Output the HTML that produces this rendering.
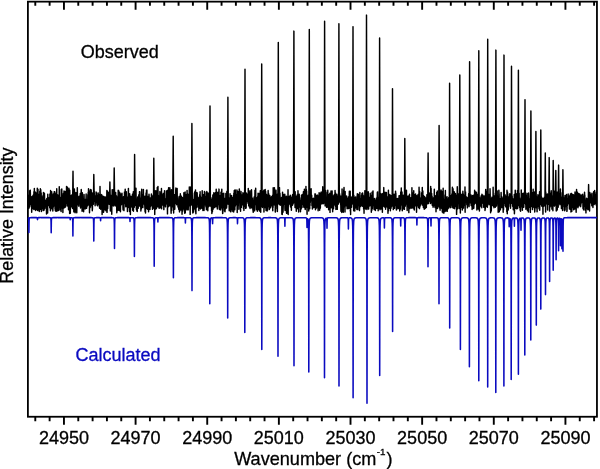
<!DOCTYPE html>
<html><head><meta charset="utf-8"><style>html,body{margin:0;padding:0;background:#fff;}svg{display:block;will-change:transform;}</style></head>
<body><svg width="600" height="469" viewBox="0 0 600 469">
<rect x="0" y="0" width="600" height="469" fill="#fff"/>
<rect x="27.9" y="1.65" width="569.0500000000001" height="415.1" fill="none" stroke="#000" stroke-width="1.8"/>
<svg x="27.9" y="0" width="569.0500000000001" height="469" viewBox="27.9 0 569.0500000000001 469" overflow="hidden">
<polyline fill="none" stroke="#000" stroke-width="1.45" stroke-linejoin="round" points="27.90,199.66 28.04,204.57 28.18,199.85 28.32,199.28 28.46,195.35 28.60,199.94 28.74,208.41 28.88,204.01 29.02,207.93 29.16,202.89 29.30,203.83 29.44,202.49 29.58,190.64 29.72,206.77 29.86,204.54 30.00,204.49 30.14,190.48 30.28,190.15 30.42,195.61 30.56,198.31 30.70,203.25 30.84,201.01 30.98,204.63 31.12,197.19 31.26,203.27 31.40,203.82 31.54,197.07 31.68,212.28 31.82,204.86 31.96,208.95 32.10,197.34 32.24,196.57 32.38,199.10 32.52,200.62 32.66,205.34 32.80,202.89 32.94,198.44 33.08,195.19 33.22,197.98 33.36,209.10 33.50,196.14 33.64,202.86 33.78,204.02 33.92,191.79 34.06,201.61 34.20,209.64 34.34,188.44 34.48,199.25 34.62,200.62 34.76,196.08 34.90,204.47 35.04,200.90 35.18,191.95 35.32,206.58 35.46,205.57 35.60,207.34 35.74,210.49 35.88,203.61 36.02,202.06 36.16,193.01 36.30,205.23 36.44,197.40 36.58,198.41 36.72,193.23 36.86,195.13 37.00,197.91 37.14,209.52 37.28,188.34 37.42,192.00 37.56,202.83 37.70,210.50 37.84,204.99 37.98,189.19 38.12,203.58 38.26,196.61 38.40,194.16 38.54,207.53 38.68,208.32 38.82,202.30 38.96,202.87 39.10,204.07 39.24,211.46 39.38,205.24 39.52,204.60 39.66,204.79 39.80,191.31 39.94,209.47 40.08,207.38 40.22,204.67 40.36,188.73 40.50,197.26 40.64,206.66 40.78,189.77 40.92,200.13 41.06,207.79 41.20,192.95 41.34,211.55 41.48,204.81 41.62,200.34 41.76,203.37 41.90,205.44 42.04,202.07 42.18,208.59 42.32,197.09 42.46,198.66 42.60,207.93 42.74,201.47 42.88,195.70 43.02,207.32 43.16,210.62 43.30,198.47 43.44,192.52 43.58,200.44 43.72,200.35 43.86,199.40 44.00,210.23 44.14,194.77 44.28,209.32 44.42,193.23 44.56,196.30 44.70,205.32 44.84,208.48 44.98,206.76 45.12,203.49 45.26,202.21 45.40,202.27 45.54,204.96 45.68,200.18 45.82,203.06 45.96,204.94 46.10,201.31 46.24,206.16 46.38,204.90 46.52,214.08 46.66,203.36 46.80,198.58 46.94,198.93 47.08,201.22 47.22,207.17 47.36,199.16 47.50,203.75 47.64,212.97 47.78,194.16 47.92,202.85 48.06,203.83 48.20,202.81 48.34,198.56 48.48,205.46 48.62,203.09 48.76,197.99 48.90,203.55 49.04,197.78 49.18,200.67 49.32,199.87 49.46,200.90 49.60,198.21 49.74,207.70 49.88,193.88 50.02,200.88 50.16,207.35 50.30,206.73 50.44,210.76 50.58,190.51 50.72,199.06 50.86,199.14 51.00,205.25 51.14,208.23 51.28,208.20 51.42,192.12 51.56,205.63 51.70,191.84 51.84,202.42 51.98,208.88 52.12,200.35 52.26,202.51 52.40,206.35 52.54,202.20 52.68,200.74 52.82,211.02 52.96,207.95 53.10,199.44 53.24,194.03 53.38,207.10 53.52,199.62 53.66,202.14 53.80,205.77 53.94,202.71 54.08,205.35 54.22,191.62 54.36,191.74 54.50,205.20 54.64,195.20 54.78,194.80 54.92,191.99 55.06,209.32 55.20,206.03 55.34,210.63 55.48,195.36 55.62,201.31 55.76,194.08 55.90,206.15 56.04,211.36 56.18,195.66 56.32,211.18 56.46,207.55 56.60,200.17 56.74,188.82 56.88,210.20 57.02,200.69 57.16,197.49 57.30,203.83 57.44,203.89 57.58,210.78 57.72,194.85 57.86,208.49 58.00,210.71 58.14,210.49 58.28,200.16 58.42,196.59 58.56,207.74 58.70,202.03 58.84,202.09 58.98,210.31 59.12,199.63 59.26,186.78 59.40,198.85 59.54,189.58 59.68,206.48 59.82,203.30 59.96,197.44 60.10,201.24 60.24,206.56 60.38,201.80 60.52,209.68 60.66,200.91 60.80,207.87 60.94,210.72 61.08,211.47 61.22,197.06 61.36,206.86 61.50,189.45 61.64,194.46 61.78,188.90 61.92,208.05 62.06,193.52 62.20,201.22 62.34,200.09 62.48,201.12 62.62,197.56 62.76,202.78 62.90,212.61 63.04,201.58 63.18,204.65 63.32,207.62 63.46,200.05 63.60,193.35 63.74,197.79 63.88,208.08 64.02,190.91 64.16,197.53 64.30,207.66 64.44,206.30 64.58,201.35 64.72,206.38 64.86,202.35 65.00,193.86 65.14,191.43 65.28,197.27 65.42,207.12 65.56,197.73 65.70,195.61 65.84,196.44 65.98,191.64 66.12,200.56 66.26,193.86 66.40,203.60 66.54,186.42 66.68,203.37 66.82,197.26 66.96,189.06 67.10,205.87 67.24,199.56 67.38,187.24 67.52,195.78 67.66,203.13 67.80,198.41 67.94,206.22 68.08,206.01 68.22,205.50 68.36,203.36 68.50,209.70 68.64,205.46 68.78,204.14 68.92,188.17 69.06,206.95 69.20,209.55 69.34,199.43 69.48,198.34 69.62,213.52 69.76,190.23 69.90,204.25 70.04,195.46 70.18,205.64 70.32,213.18 70.46,200.54 70.60,204.83 70.74,206.98 70.88,195.60 71.02,200.74 71.16,203.14 71.30,206.49 71.44,201.08 71.58,200.07 71.72,194.91 71.86,199.04 72.00,206.91 72.14,201.94 72.28,195.93 72.42,196.01 72.56,208.47 73.00,171.20 73.40,205.31 73.54,205.21 73.68,204.32 73.82,211.89 73.96,203.99 74.10,200.88 74.24,204.58 74.38,189.08 74.52,207.79 74.66,203.34 74.80,196.89 74.94,209.63 75.08,212.67 75.22,192.49 75.36,197.11 75.50,203.13 75.64,202.45 75.78,198.80 75.92,195.18 76.06,207.82 76.20,193.80 76.34,192.85 76.48,212.00 76.62,207.51 76.76,212.74 76.90,206.39 77.04,195.82 77.18,202.94 77.32,187.74 77.46,196.60 77.60,200.93 77.74,204.58 77.88,196.73 78.02,200.52 78.16,204.18 78.30,203.66 78.44,205.30 78.58,202.61 78.72,199.27 78.86,206.25 79.00,201.61 79.14,196.12 79.28,197.37 79.42,201.30 79.56,200.61 79.70,202.28 79.84,201.30 79.98,202.40 80.12,200.46 80.26,193.41 80.40,203.94 80.54,207.91 80.68,204.03 80.82,200.11 80.96,204.10 81.10,195.25 81.24,189.41 81.38,201.67 81.52,195.47 81.66,205.94 81.80,194.51 81.94,194.79 82.08,211.19 82.22,198.91 82.36,192.72 82.50,196.52 82.64,204.56 82.78,204.41 82.92,202.41 83.06,210.60 83.20,205.73 83.34,201.17 83.48,205.04 83.62,211.66 83.76,207.38 83.90,207.71 84.04,194.52 84.18,200.37 84.32,205.87 84.46,199.44 84.60,207.99 84.74,205.03 84.88,206.99 85.02,199.97 85.16,209.06 85.30,199.95 85.44,201.87 85.58,199.15 85.72,206.77 85.86,207.44 86.00,201.34 86.14,194.00 86.28,202.47 86.42,203.55 86.56,208.37 86.70,206.20 86.84,201.45 86.98,206.64 87.12,204.68 87.26,202.59 87.40,201.65 87.54,199.78 87.68,205.59 87.82,194.71 87.96,197.37 88.10,201.33 88.24,192.15 88.38,198.58 88.52,188.74 88.66,197.03 88.80,204.85 88.94,204.84 89.08,200.96 89.22,199.85 89.36,192.45 89.50,212.72 89.64,204.52 89.78,208.13 89.92,195.79 90.06,200.14 90.20,189.93 90.34,206.18 90.48,207.14 90.62,189.45 90.76,200.97 90.90,205.24 91.04,190.30 91.18,189.90 91.32,194.65 91.46,197.37 91.60,192.54 91.74,201.50 91.88,202.86 92.02,205.26 92.16,205.68 92.30,210.68 92.44,208.57 92.58,193.11 92.72,198.15 92.86,194.68 93.00,194.58 93.14,200.79 93.28,201.33 93.42,204.36 93.80,174.40 94.12,191.40 94.26,193.58 94.40,201.16 94.54,200.06 94.68,199.36 94.82,200.91 94.96,196.56 95.10,205.67 95.24,203.51 95.38,200.75 95.52,197.11 95.66,200.21 95.80,195.18 95.94,201.53 96.08,191.93 96.22,202.54 96.36,202.22 96.50,192.72 96.64,199.74 96.78,199.34 96.92,204.17 97.06,205.11 97.20,201.07 97.34,196.00 97.48,200.40 97.62,200.89 97.76,205.87 97.90,203.13 98.04,196.80 98.18,192.87 98.32,198.98 98.46,196.69 98.60,194.38 98.74,200.58 98.88,198.24 99.02,201.96 99.16,204.56 99.30,198.73 99.44,199.30 99.58,208.16 99.72,202.06 99.86,208.25 100.00,186.52 100.14,196.62 100.28,202.84 100.42,205.05 100.56,203.31 100.70,209.26 100.84,206.07 100.98,207.19 101.12,204.47 101.26,200.33 101.40,204.47 101.54,194.60 101.68,208.65 101.82,194.97 101.96,202.85 102.10,214.49 102.24,199.91 102.38,201.42 102.52,208.53 102.66,201.46 102.80,196.28 102.94,202.90 103.08,204.92 103.22,205.71 103.36,196.50 103.50,212.19 103.64,211.66 103.78,201.41 103.92,202.97 104.06,198.64 104.20,210.08 104.34,196.92 104.48,205.49 104.62,198.32 104.76,196.99 104.90,205.76 105.04,209.58 105.18,201.24 105.32,197.09 105.46,206.34 105.60,200.99 105.74,203.23 105.88,210.75 106.02,208.32 106.16,198.07 106.30,201.32 106.44,206.18 106.58,197.28 106.72,201.02 106.86,190.44 107.00,212.39 107.14,209.77 107.28,193.76 107.42,191.96 107.56,191.24 107.70,208.59 107.84,198.45 107.98,200.92 108.12,199.36 108.26,200.55 108.40,194.55 108.54,201.45 108.68,192.38 108.82,200.86 108.96,203.21 109.10,204.20 109.24,199.86 109.38,195.70 109.52,202.29 109.90,182.00 110.22,198.30 110.36,211.00 110.50,206.06 110.64,200.59 110.78,198.38 110.92,196.95 111.06,195.49 111.20,199.11 111.34,203.13 111.48,204.49 111.62,204.82 111.76,214.30 111.90,196.93 112.04,201.38 112.18,189.74 112.32,198.07 112.46,202.35 112.60,202.26 112.74,203.83 112.88,199.82 113.02,203.57 113.16,201.63 113.30,206.07 113.44,189.59 113.58,195.82 113.72,201.29 113.86,194.91 114.20,168.00 114.56,194.84 114.70,205.18 114.84,197.28 114.98,205.23 115.12,205.91 115.26,203.20 115.40,204.44 115.54,200.65 115.68,192.59 115.82,201.11 115.96,204.11 116.10,198.03 116.24,200.68 116.38,205.93 116.52,195.87 116.66,205.26 116.80,212.81 116.94,197.87 117.08,202.21 117.22,200.37 117.36,210.82 117.50,203.26 117.64,206.85 117.78,197.04 117.92,201.20 118.06,201.24 118.20,190.33 118.34,210.20 118.48,206.86 118.62,190.50 118.76,205.90 118.90,200.49 119.04,204.07 119.18,203.56 119.32,192.04 119.46,199.99 119.60,210.52 119.74,197.75 119.88,194.99 120.02,192.91 120.16,193.76 120.30,203.37 120.44,211.75 120.58,203.95 120.72,202.82 120.86,198.09 121.00,197.14 121.14,204.56 121.28,204.68 121.42,195.04 121.56,194.08 121.70,203.10 121.84,202.83 121.98,193.24 122.12,200.05 122.26,197.95 122.40,204.14 122.54,200.58 122.68,200.77 122.82,199.12 122.96,207.80 123.10,209.88 123.24,199.04 123.38,206.52 123.52,196.63 123.66,201.74 123.80,205.92 123.94,210.63 124.08,198.94 124.22,200.84 124.36,202.51 124.50,192.07 124.64,201.40 124.78,197.14 124.92,203.59 125.06,194.34 125.20,189.12 125.34,201.54 125.48,202.91 125.62,197.92 125.76,206.77 125.90,199.62 126.04,197.57 126.18,204.24 126.32,191.64 126.46,197.13 126.60,201.17 126.74,206.53 126.88,200.30 127.02,203.20 127.16,197.26 127.30,203.16 127.44,211.54 127.58,197.08 127.72,197.34 127.86,201.41 128.00,202.37 128.14,207.60 128.28,193.69 128.42,188.38 128.56,205.03 128.70,206.19 128.84,205.14 128.98,202.56 129.12,202.86 129.26,207.02 129.40,203.57 129.54,211.53 129.68,193.69 129.82,198.99 129.96,206.30 130.10,199.01 130.24,206.98 130.38,214.54 130.52,201.26 130.66,199.74 130.80,198.23 130.94,196.15 131.08,197.43 131.22,205.23 131.36,201.53 131.50,201.71 131.64,200.24 131.78,206.92 131.92,204.34 132.06,200.43 132.20,205.38 132.34,200.37 132.48,194.22 132.62,210.24 132.76,204.16 132.90,195.42 133.04,207.93 133.18,203.42 133.32,191.69 133.46,211.19 133.60,203.35 133.74,206.77 133.88,202.51 134.02,200.38 134.16,191.80 134.30,207.26 134.60,154.50 135.00,201.48 135.14,199.54 135.28,203.45 135.42,201.78 135.56,205.45 135.70,199.02 135.84,201.08 135.98,188.18 136.12,198.70 136.26,205.44 136.40,209.50 136.54,199.07 136.68,200.56 136.82,211.01 136.96,199.30 137.10,205.80 137.24,211.59 137.38,201.54 137.52,208.82 137.66,196.94 137.80,202.57 137.94,200.83 138.08,202.00 138.22,208.22 138.36,197.22 138.50,197.78 138.64,204.35 138.78,194.83 138.92,204.35 139.06,204.80 139.20,199.60 139.34,204.55 139.48,191.81 139.62,205.95 139.76,191.84 139.90,197.03 140.04,197.89 140.18,198.84 140.32,206.56 140.46,201.80 140.60,198.87 140.74,204.63 140.88,210.98 141.02,201.34 141.16,203.54 141.30,208.89 141.44,202.94 141.58,193.44 141.72,189.15 141.86,201.06 142.00,203.85 142.14,207.21 142.28,205.39 142.42,199.63 142.56,194.85 142.70,201.93 142.84,207.62 142.98,194.63 143.12,195.02 143.26,201.15 143.40,189.45 143.54,199.71 143.68,198.63 143.82,204.06 143.96,197.01 144.10,195.91 144.24,198.89 144.38,200.99 144.52,197.24 144.66,201.37 144.80,205.89 144.94,208.54 145.08,211.72 145.22,196.51 145.36,198.73 145.50,212.91 145.64,196.87 145.78,201.10 145.92,204.49 146.06,193.00 146.20,204.13 146.34,201.14 146.48,190.15 146.62,203.08 146.76,208.60 146.90,189.89 147.04,206.23 147.18,202.58 147.32,204.20 147.46,204.00 147.60,209.26 147.74,199.93 147.88,206.63 148.02,198.80 148.16,205.74 148.30,196.33 148.44,200.64 148.58,211.86 148.72,204.02 148.86,200.33 149.00,194.31 149.14,196.48 149.28,202.48 149.42,207.03 149.56,203.90 149.70,204.50 149.84,201.05 149.98,209.55 150.12,198.92 150.26,197.95 150.40,206.72 150.54,201.69 150.68,199.60 150.82,197.79 150.96,199.73 151.10,205.10 151.24,203.46 151.38,193.93 151.52,203.90 151.66,202.39 151.80,195.20 151.94,206.01 152.08,199.59 152.22,199.26 152.36,206.15 152.50,209.35 152.64,197.10 152.78,203.97 152.92,195.96 153.06,198.29 153.20,208.58 153.34,197.36 153.48,206.24 153.80,158.30 154.18,198.65 154.32,204.35 154.46,200.73 154.60,197.23 154.74,214.40 154.88,201.78 155.02,191.29 155.16,206.50 155.30,190.82 155.44,208.30 155.58,197.78 155.72,202.18 155.86,208.97 156.00,202.02 156.14,192.84 156.28,190.98 156.42,208.49 156.56,205.80 156.70,196.34 156.84,206.53 156.98,204.32 157.12,205.24 157.26,187.56 157.40,199.46 157.54,206.78 157.68,205.76 157.82,206.66 157.96,186.36 158.10,202.33 158.24,204.29 158.38,195.50 158.52,199.30 158.66,201.52 158.80,206.69 158.94,198.61 159.08,208.27 159.22,196.51 159.36,202.92 159.50,198.10 159.64,202.26 159.78,197.10 159.92,191.60 160.06,207.94 160.20,203.14 160.34,197.91 160.48,202.52 160.62,207.31 160.76,195.36 160.90,200.63 161.04,204.57 161.18,204.49 161.32,199.26 161.46,188.51 161.60,208.85 161.74,203.29 161.88,201.38 162.02,199.61 162.16,202.90 162.30,198.72 162.44,195.08 162.58,196.81 162.72,197.68 162.86,197.58 163.00,194.27 163.14,205.16 163.28,193.35 163.42,205.30 163.56,195.14 163.70,203.44 163.84,209.63 163.98,202.53 164.12,196.87 164.26,201.59 164.40,202.20 164.54,190.79 164.68,197.62 164.82,202.29 164.96,198.46 165.10,201.78 165.24,205.75 165.38,205.95 165.52,206.79 165.66,204.87 165.80,199.55 165.94,201.19 166.08,199.66 166.22,199.40 166.36,200.21 166.50,190.85 166.64,199.28 166.78,201.15 166.92,195.40 167.06,201.15 167.20,204.42 167.34,200.30 167.48,213.88 167.62,200.05 167.76,190.25 167.90,207.23 168.04,202.07 168.18,204.44 168.32,199.47 168.46,204.64 168.60,187.72 168.74,206.46 168.88,203.55 169.02,201.44 169.16,197.74 169.30,205.16 169.44,198.36 169.58,202.65 169.72,198.21 169.86,187.71 170.00,201.11 170.14,202.52 170.28,205.86 170.42,196.00 170.56,201.10 170.70,205.03 170.84,202.18 170.98,208.81 171.12,213.34 171.26,195.81 171.40,189.68 171.54,206.48 171.68,210.55 171.82,206.88 171.96,206.22 172.10,197.56 172.24,196.99 172.38,206.67 172.52,195.79 172.66,190.34 172.80,195.27 173.20,136.30 173.64,212.92 173.78,197.15 173.92,196.90 174.06,202.70 174.20,196.77 174.34,209.21 174.48,200.83 174.62,194.74 174.76,209.20 174.90,197.78 175.04,202.64 175.18,201.22 175.32,199.40 175.46,203.26 175.60,197.12 175.74,190.17 175.88,187.97 176.02,193.66 176.16,196.72 176.30,201.16 176.44,201.63 176.58,204.66 176.72,202.02 176.86,196.51 177.00,197.02 177.14,188.52 177.28,200.28 177.42,204.22 177.56,204.49 177.70,200.57 177.84,200.25 177.98,206.95 178.12,201.39 178.26,205.75 178.40,204.81 178.54,202.59 178.68,209.18 178.82,197.85 178.96,199.14 179.10,196.43 179.24,196.49 179.38,210.68 179.52,211.90 179.66,201.44 179.80,204.72 179.94,208.38 180.08,206.17 180.22,208.56 180.36,193.69 180.50,197.45 180.64,204.03 180.78,209.95 180.92,201.93 181.06,196.13 181.20,199.16 181.34,197.32 181.48,196.13 181.62,210.34 181.76,197.53 181.90,201.42 182.04,214.32 182.18,208.43 182.32,203.32 182.46,197.62 182.60,203.77 182.74,211.06 182.88,205.05 183.02,208.89 183.16,201.89 183.30,204.41 183.44,200.09 183.58,203.87 183.72,209.12 183.86,192.69 184.00,200.92 184.14,202.75 184.28,197.86 184.42,199.45 184.56,206.03 184.70,213.34 184.84,205.09 184.98,203.26 185.12,191.97 185.26,212.89 185.40,201.76 185.54,201.10 185.68,194.58 185.82,200.96 185.96,194.71 186.10,201.73 186.24,204.10 186.38,201.49 186.52,202.98 186.66,196.18 186.80,209.89 186.94,197.37 187.08,190.37 187.22,200.17 187.36,196.71 187.50,195.23 187.64,199.17 187.78,203.05 187.92,194.20 188.06,200.47 188.20,209.87 188.34,205.40 188.48,200.39 188.62,202.07 188.76,200.58 188.90,201.01 189.04,205.70 189.18,200.74 189.32,186.87 189.46,201.17 189.60,195.96 189.74,205.21 189.88,197.64 190.02,202.19 190.16,214.37 190.30,195.02 190.44,194.55 190.58,192.83 190.72,186.93 190.86,190.03 191.00,203.49 191.14,197.47 191.28,190.09 191.42,192.41 191.56,205.00 191.90,123.50 192.26,196.65 192.40,199.10 192.54,203.28 192.68,209.43 192.82,212.93 192.96,207.49 193.10,202.16 193.24,202.40 193.38,212.10 193.52,209.86 193.66,199.44 193.80,204.04 193.94,203.02 194.08,201.61 194.22,198.30 194.36,193.35 194.50,198.10 194.64,192.05 194.78,208.63 194.92,204.51 195.06,194.08 195.20,209.66 195.34,206.64 195.48,189.87 195.62,212.33 195.76,206.15 195.90,213.66 196.04,193.93 196.18,204.48 196.32,203.83 196.46,202.51 196.60,202.32 196.74,207.60 196.88,192.36 197.02,193.87 197.16,192.96 197.30,197.96 197.44,197.68 197.58,203.50 197.72,202.89 197.86,201.49 198.00,197.25 198.14,198.66 198.28,207.00 198.42,205.87 198.56,201.90 198.70,199.37 198.84,210.59 198.98,197.75 199.12,205.18 199.26,208.20 199.40,199.71 199.54,206.23 199.68,194.63 199.82,207.35 199.96,202.49 200.10,191.82 200.24,205.30 200.38,195.97 200.52,208.96 200.66,197.24 200.80,200.32 200.94,202.99 201.08,199.31 201.22,202.85 201.36,197.99 201.50,205.31 201.64,201.33 201.78,202.56 201.92,208.24 202.06,201.49 202.20,190.66 202.34,201.87 202.48,204.09 202.62,207.69 202.76,194.84 202.90,210.54 203.04,200.35 203.18,200.43 203.32,205.36 203.46,199.11 203.60,194.64 203.74,207.84 203.88,206.71 204.02,210.48 204.16,206.41 204.30,197.88 204.44,191.38 204.58,197.42 204.72,197.27 204.86,196.44 205.00,204.77 205.14,203.25 205.28,199.69 205.42,202.33 205.56,200.43 205.70,202.57 205.84,205.78 205.98,207.02 206.12,197.21 206.26,192.32 206.40,209.81 206.54,201.98 206.68,207.89 206.82,191.51 206.96,199.33 207.10,201.46 207.24,192.71 207.38,198.23 207.52,205.62 207.66,207.73 207.80,210.80 207.94,196.16 208.08,192.95 208.22,204.40 208.36,206.90 208.50,202.45 208.64,193.55 208.78,205.96 208.92,206.02 209.06,204.59 209.20,198.40 209.34,203.11 209.48,206.01 209.62,197.97 210.00,106.00 210.32,190.33 210.46,203.26 210.60,204.16 210.74,201.38 210.88,206.59 211.02,197.81 211.16,200.81 211.30,199.48 211.44,204.70 211.58,210.79 211.72,199.81 211.86,213.52 212.00,210.39 212.14,206.00 212.28,204.79 212.42,211.83 212.56,200.23 212.70,200.63 212.84,194.98 212.98,204.11 213.12,209.29 213.26,204.46 213.40,203.81 213.54,200.11 213.68,202.31 213.82,192.83 213.96,207.53 214.10,198.86 214.24,194.74 214.38,196.84 214.52,196.40 214.66,206.38 214.80,207.59 214.94,193.24 215.08,206.80 215.22,206.57 215.36,197.86 215.50,192.47 215.64,196.87 215.78,197.54 215.92,203.33 216.06,199.18 216.20,189.26 216.34,202.69 216.48,192.19 216.62,206.67 216.76,194.14 216.90,197.19 217.04,196.23 217.18,198.08 217.32,209.00 217.46,206.36 217.60,204.87 217.74,203.19 217.88,192.12 218.02,198.21 218.16,198.03 218.30,195.50 218.44,204.32 218.58,196.90 218.72,197.09 218.86,195.11 219.00,189.10 219.14,204.83 219.28,209.19 219.42,202.34 219.56,195.51 219.70,202.33 219.84,208.51 219.98,203.06 220.12,206.80 220.26,210.06 220.40,207.98 220.54,198.68 220.68,207.54 220.82,205.90 220.96,192.19 221.10,198.90 221.24,192.86 221.38,200.65 221.52,204.73 221.66,194.97 221.80,189.12 221.94,208.99 222.08,203.53 222.22,210.01 222.36,193.46 222.50,207.58 222.64,213.58 222.78,213.18 222.92,200.06 223.06,202.89 223.20,200.39 223.34,207.21 223.48,207.44 223.62,201.81 223.76,193.26 223.90,205.69 224.04,198.52 224.18,205.02 224.32,202.86 224.46,210.91 224.60,208.03 224.74,198.63 224.88,203.36 225.02,211.73 225.16,198.12 225.30,203.86 225.44,208.34 225.58,208.73 225.72,204.37 225.86,193.49 226.00,193.84 226.14,202.76 226.28,203.59 226.42,196.21 226.56,208.03 226.70,205.85 226.84,191.42 226.98,196.46 227.12,202.28 227.26,198.38 227.40,200.39 227.54,204.08 227.90,97.20 228.24,196.52 228.38,204.05 228.52,197.54 228.66,198.08 228.80,204.47 228.94,197.91 229.08,203.00 229.22,210.74 229.36,201.46 229.50,200.44 229.64,205.64 229.78,199.14 229.92,207.69 230.06,193.73 230.20,204.95 230.34,198.28 230.48,196.59 230.62,211.74 230.76,196.28 230.90,211.67 231.04,205.18 231.18,209.87 231.32,195.54 231.46,208.37 231.60,209.89 231.74,200.61 231.88,200.54 232.02,202.35 232.16,198.81 232.30,197.59 232.44,203.93 232.58,203.25 232.72,202.35 232.86,211.45 233.00,199.37 233.14,204.09 233.28,209.90 233.42,195.38 233.56,207.42 233.70,212.10 233.84,193.32 233.98,194.83 234.12,195.18 234.26,190.42 234.40,203.97 234.54,190.36 234.68,204.24 234.82,209.86 234.96,191.79 235.10,199.44 235.24,190.00 235.38,205.89 235.52,196.96 235.66,199.73 235.80,201.62 235.94,204.51 236.08,199.26 236.22,201.39 236.36,198.08 236.50,201.97 236.64,194.40 236.78,201.67 236.92,189.93 237.06,198.41 237.20,212.57 237.34,201.77 237.48,193.89 237.62,202.81 237.76,195.58 237.90,191.58 238.04,196.97 238.18,205.63 238.32,203.56 238.46,200.73 238.60,195.85 238.74,194.96 238.88,209.24 239.02,202.74 239.16,195.70 239.30,188.89 239.44,193.25 239.58,194.55 239.72,200.85 239.86,202.53 240.00,200.37 240.14,199.66 240.28,193.23 240.42,195.12 240.56,211.22 240.70,196.86 240.84,206.27 240.98,191.35 241.12,199.69 241.26,202.83 241.40,207.39 241.54,194.70 241.68,204.80 241.82,203.57 241.96,196.97 242.10,204.10 242.24,196.03 242.38,196.63 242.52,201.19 242.66,200.66 242.80,195.43 242.94,192.71 243.08,198.80 243.22,205.78 243.36,198.93 243.50,208.73 243.64,194.49 243.78,193.60 243.92,210.40 244.06,203.64 244.20,206.85 244.34,196.45 244.48,206.02 244.62,202.82 245.00,69.30 245.32,205.10 245.46,201.45 245.60,208.37 245.74,197.49 245.88,195.65 246.02,192.64 246.16,208.10 246.30,196.97 246.44,195.18 246.58,195.79 246.72,198.69 246.86,193.85 247.00,199.60 247.14,197.62 247.28,198.07 247.42,195.68 247.56,201.52 247.70,198.60 247.84,201.97 247.98,202.76 248.12,203.29 248.26,188.48 248.40,198.16 248.54,196.64 248.68,205.83 248.82,192.06 248.96,197.12 249.10,199.58 249.24,199.33 249.38,207.10 249.52,198.71 249.66,206.95 249.80,192.72 249.94,190.69 250.08,208.44 250.22,203.85 250.36,204.15 250.50,202.02 250.64,204.13 250.78,194.19 250.92,206.85 251.06,198.19 251.20,207.07 251.34,201.81 251.48,189.75 251.62,193.77 251.76,207.90 251.90,200.50 252.04,198.99 252.18,202.72 252.32,198.81 252.46,198.12 252.60,201.90 252.74,202.14 252.88,210.17 253.02,201.57 253.16,212.29 253.30,211.84 253.44,211.33 253.58,207.50 253.72,202.06 253.86,202.10 254.00,200.47 254.14,197.03 254.28,200.91 254.42,197.56 254.56,210.88 254.70,204.42 254.84,198.69 254.98,190.11 255.12,200.99 255.26,198.87 255.40,194.96 255.54,194.66 255.68,188.16 255.82,204.62 255.96,200.92 256.10,201.12 256.24,200.43 256.38,209.73 256.52,202.08 256.66,202.28 256.80,199.13 256.94,197.77 257.08,210.05 257.22,207.14 257.36,211.31 257.50,199.26 257.64,201.48 257.78,196.16 257.92,206.94 258.06,193.17 258.20,204.59 258.34,207.69 258.48,209.53 258.62,195.82 258.76,207.66 258.90,197.14 259.04,196.89 259.18,193.59 259.32,208.04 259.46,210.91 259.60,197.83 259.74,196.87 259.88,199.32 260.02,207.15 260.16,198.14 260.30,190.84 260.44,197.38 260.58,208.22 260.72,212.18 260.86,199.75 261.00,197.27 261.14,198.33 261.28,190.31 261.70,64.00 262.12,206.59 262.26,194.98 262.40,207.49 262.54,191.36 262.68,193.91 262.82,202.98 262.96,196.85 263.10,205.85 263.24,201.35 263.38,194.46 263.52,204.92 263.66,206.20 263.80,190.17 263.94,211.93 264.08,204.19 264.22,205.72 264.36,190.48 264.50,197.11 264.64,199.27 264.78,207.57 264.92,192.81 265.06,196.16 265.20,189.49 265.34,199.90 265.48,203.31 265.62,191.49 265.76,197.86 265.90,204.27 266.04,210.52 266.18,205.16 266.32,199.53 266.46,194.45 266.60,195.86 266.74,197.44 266.88,202.15 267.02,201.01 267.16,210.99 267.30,202.97 267.44,195.07 267.58,210.27 267.72,206.81 267.86,201.89 268.00,197.11 268.14,190.43 268.28,195.36 268.42,206.60 268.56,196.64 268.70,193.64 268.84,202.44 268.98,202.72 269.12,204.82 269.26,205.11 269.40,209.48 269.54,196.43 269.68,206.98 269.82,195.57 269.96,205.33 270.10,202.34 270.24,202.71 270.38,206.92 270.52,201.20 270.66,207.75 270.80,206.38 270.94,202.09 271.08,198.01 271.22,196.93 271.36,198.24 271.50,200.13 271.64,201.16 271.78,205.00 271.92,205.76 272.06,196.31 272.20,197.18 272.34,199.45 272.48,202.41 272.62,195.29 272.76,210.65 272.90,198.03 273.04,207.55 273.18,187.76 273.32,201.26 273.46,202.91 273.60,202.41 273.74,204.79 273.88,202.92 274.02,202.24 274.16,190.33 274.30,197.17 274.44,187.73 274.58,204.94 274.72,203.08 274.86,200.17 275.00,196.54 275.14,197.93 275.28,211.99 275.42,211.33 275.56,200.96 275.70,208.76 275.84,192.11 275.98,190.10 276.12,198.50 276.26,196.23 276.40,198.06 276.54,202.39 276.68,197.48 276.82,201.59 276.96,202.90 277.10,201.10 277.24,206.69 277.38,211.57 277.52,194.10 277.66,202.24 277.80,199.77 277.94,203.36 278.30,42.40 278.64,192.44 278.78,191.13 278.92,187.90 279.06,204.34 279.20,202.41 279.34,201.73 279.48,187.62 279.62,199.14 279.76,196.93 279.90,193.13 280.04,196.01 280.18,205.33 280.32,204.44 280.46,201.17 280.60,204.27 280.74,197.81 280.88,201.71 281.02,201.53 281.16,204.50 281.30,200.90 281.44,200.47 281.58,200.52 281.72,197.58 281.86,214.20 282.00,204.27 282.14,203.78 282.28,214.53 282.42,209.40 282.56,192.31 282.70,205.31 282.84,206.14 282.98,212.18 283.12,208.89 283.26,205.75 283.40,194.51 283.54,196.28 283.68,202.85 283.82,204.21 283.96,195.41 284.10,199.08 284.24,198.99 284.38,201.65 284.52,203.24 284.66,199.65 284.80,194.17 284.94,208.47 285.08,210.50 285.22,200.69 285.36,207.21 285.50,203.86 285.64,205.10 285.78,204.08 285.92,196.90 286.06,204.61 286.20,207.13 286.34,196.13 286.48,212.63 286.62,213.34 286.76,211.81 286.90,212.76 287.04,205.58 287.18,199.35 287.32,197.84 287.46,196.62 287.60,201.97 287.74,201.11 287.88,205.16 288.02,189.67 288.16,214.41 288.30,201.14 288.44,205.19 288.58,204.04 288.72,202.87 288.86,200.10 289.00,200.59 289.14,196.55 289.28,202.33 289.42,201.16 289.56,203.14 289.70,196.38 289.84,201.53 289.98,201.58 290.12,204.78 290.26,195.18 290.40,203.71 290.54,206.96 290.68,204.74 290.82,199.18 290.96,198.47 291.10,199.94 291.24,205.49 291.38,210.23 291.52,200.39 291.66,197.60 291.80,203.46 291.94,202.48 292.08,196.08 292.22,197.06 292.36,200.72 292.50,205.16 292.64,194.44 292.78,195.45 292.92,204.17 293.06,194.26 293.20,201.93 293.34,203.32 293.48,200.66 293.90,31.10 294.32,195.45 294.46,200.96 294.60,199.39 294.74,203.23 294.88,196.48 295.02,207.57 295.16,191.68 295.30,200.29 295.44,201.34 295.58,206.82 295.72,197.81 295.86,204.43 296.00,198.05 296.14,205.54 296.28,211.27 296.42,199.00 296.56,203.84 296.70,195.98 296.84,206.88 296.98,208.25 297.12,201.50 297.26,194.79 297.40,203.61 297.54,207.89 297.68,207.55 297.82,205.96 297.96,190.80 298.10,197.40 298.24,209.45 298.38,194.27 298.52,207.79 298.66,212.09 298.80,205.67 298.94,207.72 299.08,199.39 299.22,194.28 299.36,200.71 299.50,200.16 299.64,201.03 299.78,205.29 299.92,200.47 300.06,202.40 300.20,203.73 300.34,201.27 300.48,211.86 300.62,203.83 300.76,201.78 300.90,200.11 301.04,197.72 301.18,209.00 301.32,202.16 301.46,195.12 301.60,198.08 301.74,200.52 301.88,198.75 302.02,207.51 302.16,194.65 302.30,204.12 302.44,202.12 302.58,194.56 302.72,201.57 302.86,200.76 303.00,204.17 303.14,198.72 303.28,203.04 303.42,191.77 303.56,195.10 303.70,205.79 303.84,207.26 303.98,201.23 304.12,197.87 304.26,207.49 304.40,189.34 304.54,196.73 304.68,205.14 304.82,205.03 304.96,195.40 305.10,190.51 305.24,209.60 305.38,202.17 305.52,196.18 305.66,201.61 305.80,206.45 305.94,186.49 306.08,207.65 306.22,205.53 306.36,189.41 306.50,205.71 306.64,191.13 306.78,207.81 306.92,203.58 307.06,214.17 307.20,197.81 307.34,201.33 307.48,207.28 307.62,197.64 307.76,197.27 307.90,199.18 308.04,200.88 308.18,195.12 308.32,204.06 308.46,204.40 308.60,201.71 308.74,211.01 308.88,199.43 309.30,29.40 309.72,208.76 309.86,198.18 310.00,205.61 310.14,190.26 310.28,202.43 310.42,200.30 310.56,198.48 310.70,197.82 310.84,199.32 310.98,197.19 311.12,188.79 311.26,197.90 311.40,198.17 311.54,198.31 311.68,195.27 311.82,200.53 311.96,205.77 312.10,199.87 312.24,198.49 312.38,209.04 312.52,206.87 312.66,206.55 312.80,207.89 312.94,199.44 313.08,200.56 313.22,207.64 313.36,198.14 313.50,200.62 313.64,203.45 313.78,203.42 313.92,199.73 314.06,206.90 314.20,200.29 314.34,205.43 314.48,207.40 314.62,205.05 314.76,205.48 314.90,194.70 315.04,193.84 315.18,197.78 315.32,204.01 315.46,209.84 315.60,194.34 315.74,203.05 315.88,196.44 316.02,197.13 316.16,199.73 316.30,205.24 316.44,202.51 316.58,208.01 316.72,195.69 316.86,206.36 317.00,206.59 317.14,201.70 317.28,204.01 317.42,198.10 317.56,195.10 317.70,199.00 317.84,197.65 317.98,198.54 318.12,210.68 318.26,202.45 318.40,203.07 318.54,205.53 318.68,196.87 318.82,206.51 318.96,203.44 319.10,192.68 319.24,204.72 319.38,204.44 319.52,203.87 319.66,210.31 319.80,198.95 319.94,204.21 320.08,205.55 320.22,196.19 320.36,208.12 320.50,193.06 320.64,193.92 320.78,204.27 320.92,195.12 321.06,200.64 321.20,191.96 321.34,201.69 321.48,194.86 321.62,203.24 321.76,192.60 321.90,203.85 322.04,199.79 322.18,201.66 322.32,200.92 322.46,202.04 322.60,193.80 322.74,186.75 322.88,201.49 323.02,195.99 323.16,198.72 323.30,203.72 323.44,190.04 323.58,196.97 323.72,197.84 323.86,195.30 324.00,203.15 324.14,200.50 324.28,196.65 324.60,21.20 324.98,195.72 325.12,205.88 325.26,197.56 325.40,204.62 325.54,203.85 325.68,190.57 325.82,195.16 325.96,201.32 326.10,203.24 326.24,205.72 326.38,205.85 326.52,207.16 326.66,199.18 326.80,200.11 326.94,205.69 327.08,198.89 327.22,207.28 327.36,192.30 327.50,205.00 327.64,200.32 327.78,190.16 327.92,206.85 328.06,203.06 328.20,201.42 328.34,195.21 328.48,198.67 328.62,209.86 328.76,196.62 328.90,196.45 329.04,194.51 329.18,200.55 329.32,199.07 329.46,196.14 329.60,196.54 329.74,207.23 329.88,193.14 330.02,212.37 330.16,198.22 330.30,195.12 330.44,205.75 330.58,204.49 330.72,195.40 330.86,205.53 331.00,190.90 331.14,196.08 331.28,207.67 331.42,199.85 331.56,193.94 331.70,204.21 331.84,206.48 331.98,201.17 332.12,191.09 332.26,199.34 332.40,203.66 332.54,205.64 332.68,211.77 332.82,199.87 332.96,198.57 333.10,201.08 333.24,208.11 333.38,195.98 333.52,208.67 333.66,205.80 333.80,197.48 333.94,203.89 334.08,205.19 334.22,194.62 334.36,200.81 334.50,202.66 334.64,204.62 334.78,196.05 334.92,195.70 335.06,190.44 335.20,200.21 335.34,200.04 335.48,192.87 335.62,206.55 335.76,198.28 335.90,209.40 336.04,206.11 336.18,201.42 336.32,205.40 336.46,195.03 336.60,199.46 336.74,198.05 336.88,194.14 337.02,201.40 337.16,200.48 337.30,209.39 337.44,197.51 337.58,196.12 337.72,198.68 337.86,203.68 338.00,203.58 338.14,201.46 338.28,198.63 338.42,204.09 338.56,203.33 338.90,23.80 339.26,190.92 339.40,199.82 339.54,193.56 339.68,194.64 339.82,202.13 339.96,201.64 340.10,201.94 340.24,196.37 340.38,200.17 340.52,196.16 340.66,203.45 340.80,205.18 340.94,211.18 341.08,208.43 341.22,196.77 341.36,198.72 341.50,196.02 341.64,203.02 341.78,212.45 341.92,205.29 342.06,188.92 342.20,194.22 342.34,194.03 342.48,204.20 342.62,201.31 342.76,202.99 342.90,211.32 343.04,196.65 343.18,196.53 343.32,212.36 343.46,203.22 343.60,196.92 343.74,189.89 343.88,192.73 344.02,187.56 344.16,201.68 344.30,201.55 344.44,206.88 344.58,200.52 344.72,197.40 344.86,197.13 345.00,211.98 345.14,191.38 345.28,202.28 345.42,201.44 345.56,204.77 345.70,199.03 345.84,204.10 345.98,205.88 346.12,200.47 346.26,198.73 346.40,200.25 346.54,195.88 346.68,200.13 346.82,199.60 346.96,202.48 347.10,208.80 347.24,208.64 347.38,198.80 347.52,204.68 347.66,202.96 347.80,205.57 347.94,201.42 348.08,202.79 348.22,198.67 348.36,196.90 348.50,206.19 348.64,208.59 348.78,205.02 348.92,203.74 349.06,202.79 349.20,198.78 349.34,191.30 349.48,205.02 349.62,202.42 349.76,198.19 349.90,195.89 350.04,208.47 350.18,191.18 350.32,211.18 350.46,204.89 350.60,214.59 350.74,197.28 350.88,201.18 351.02,198.46 351.16,202.17 351.30,200.12 351.44,197.11 351.58,207.32 351.72,196.90 351.86,198.45 352.00,204.41 352.14,198.29 352.28,198.87 352.42,203.29 352.56,199.24 352.70,194.32 353.00,26.60 353.40,200.73 353.54,200.07 353.68,210.84 353.82,195.16 353.96,206.73 354.10,196.90 354.24,199.31 354.38,199.47 354.52,202.81 354.66,206.13 354.80,211.09 354.94,197.74 355.08,208.74 355.22,206.87 355.36,205.85 355.50,197.05 355.64,206.34 355.78,200.70 355.92,203.28 356.06,199.79 356.20,205.01 356.34,207.54 356.48,207.62 356.62,200.15 356.76,206.87 356.90,209.42 357.04,196.07 357.18,209.53 357.32,193.84 357.46,204.33 357.60,204.62 357.74,209.59 357.88,202.86 358.02,198.61 358.16,196.85 358.30,194.31 358.44,205.58 358.58,199.98 358.72,197.29 358.86,204.27 359.00,197.03 359.14,198.86 359.28,198.74 359.42,210.54 359.56,209.47 359.70,200.42 359.84,192.53 359.98,202.84 360.12,201.70 360.26,203.25 360.40,204.46 360.54,199.51 360.68,206.46 360.82,205.97 360.96,202.48 361.10,199.03 361.24,198.62 361.38,205.16 361.52,195.17 361.66,200.41 361.80,197.12 361.94,193.53 362.08,204.67 362.22,201.16 362.36,201.50 362.50,206.18 362.64,192.97 362.78,200.93 362.92,202.91 363.06,205.94 363.20,195.25 363.34,205.29 363.48,202.52 363.62,208.86 363.76,207.65 363.90,204.36 364.04,213.27 364.18,201.29 364.32,198.93 364.46,199.40 364.60,196.06 364.74,201.14 364.88,190.84 365.02,200.83 365.16,203.67 365.30,206.82 365.44,199.37 365.58,209.03 365.72,197.67 365.86,200.55 366.00,190.84 366.14,197.06 366.50,15.10 366.84,196.89 366.98,209.42 367.12,204.18 367.26,195.30 367.40,204.20 367.54,203.92 367.68,200.03 367.82,201.42 367.96,199.64 368.10,198.35 368.24,191.67 368.38,200.81 368.52,208.28 368.66,209.08 368.80,199.79 368.94,197.24 369.08,200.15 369.22,206.17 369.36,203.21 369.50,198.13 369.64,203.27 369.78,200.18 369.92,204.10 370.06,199.09 370.20,193.32 370.34,201.61 370.48,205.42 370.62,195.30 370.76,200.72 370.90,206.06 371.04,199.27 371.18,197.78 371.32,212.30 371.46,205.79 371.60,206.86 371.74,196.18 371.88,210.13 372.02,192.34 372.16,198.50 372.30,205.30 372.44,208.49 372.58,196.28 372.72,197.71 372.86,202.36 373.00,190.88 373.14,204.75 373.28,204.32 373.42,198.89 373.56,204.20 373.70,205.49 373.84,202.97 373.98,204.12 374.12,209.46 374.26,198.73 374.40,202.17 374.54,198.49 374.68,206.87 374.82,199.11 374.96,203.85 375.10,202.04 375.24,201.66 375.38,210.53 375.52,200.84 375.66,208.91 375.80,205.74 375.94,208.38 376.08,200.41 376.22,206.28 376.36,205.36 376.50,198.01 376.64,202.74 376.78,200.61 376.92,201.11 377.06,208.27 377.20,197.44 377.34,192.29 377.48,191.98 377.62,198.88 377.76,197.85 377.90,201.38 378.04,204.33 378.18,210.71 378.32,202.95 378.46,203.78 378.60,197.37 378.74,204.40 378.88,208.56 379.02,208.46 379.16,190.87 379.30,206.06 379.60,37.90 380.00,209.75 380.14,205.71 380.28,193.33 380.42,199.66 380.56,204.43 380.70,203.52 380.84,196.97 380.98,196.55 381.12,206.45 381.26,194.19 381.40,208.94 381.54,201.41 381.68,202.90 381.82,194.20 381.96,198.13 382.10,204.97 382.24,193.47 382.38,212.32 382.52,193.83 382.66,194.80 382.80,201.53 382.94,203.86 383.08,205.20 383.22,199.33 383.36,200.20 383.50,200.05 383.64,198.24 383.78,187.60 383.92,206.41 384.06,202.63 384.20,202.14 384.34,197.96 384.48,202.63 384.62,201.23 384.76,200.89 384.90,207.17 385.04,192.16 385.18,202.64 385.32,195.64 385.46,199.61 385.60,209.25 385.74,195.55 385.88,200.77 386.02,198.16 386.16,206.33 386.30,196.11 386.44,192.38 386.58,204.02 386.72,199.42 386.86,199.61 387.00,207.02 387.14,196.60 387.28,199.32 387.42,202.08 387.56,203.49 387.70,198.56 387.84,206.78 387.98,213.17 388.12,199.14 388.26,211.20 388.40,190.13 388.54,208.75 388.68,199.48 388.82,202.03 388.96,199.50 389.10,197.93 389.24,194.54 389.38,199.21 389.52,208.16 389.66,207.33 389.80,199.46 389.94,198.51 390.08,197.59 390.22,194.95 390.36,210.84 390.50,204.81 390.64,201.92 390.78,198.70 390.92,195.89 391.06,208.26 391.20,205.43 391.34,196.26 391.48,206.53 391.62,195.45 391.76,204.69 391.90,196.22 392.04,199.11 392.18,203.92 392.50,88.80 392.88,203.58 393.02,206.64 393.16,196.88 393.30,209.64 393.44,208.40 393.58,201.25 393.72,203.76 393.86,197.19 394.00,200.50 394.14,194.33 394.28,201.77 394.42,202.35 394.56,208.39 394.70,206.30 394.84,205.60 394.98,199.39 395.12,200.11 395.26,199.50 395.40,202.47 395.54,191.12 395.68,205.37 395.82,193.03 395.96,198.58 396.10,201.42 396.24,198.59 396.38,210.07 396.52,200.78 396.66,209.59 396.80,207.49 396.94,198.68 397.08,203.41 397.22,208.14 397.36,199.54 397.50,201.77 397.64,198.36 397.78,201.61 397.92,199.44 398.06,201.74 398.20,206.58 398.34,208.64 398.48,202.00 398.62,202.36 398.76,205.81 398.90,199.77 399.04,195.72 399.18,207.15 399.32,196.38 399.46,206.20 399.60,196.22 399.74,210.94 399.88,195.80 400.02,205.77 400.16,209.19 400.30,196.24 400.44,209.12 400.58,196.97 400.72,192.01 400.86,205.10 401.00,204.99 401.14,200.23 401.28,188.01 401.42,201.01 401.56,199.69 401.70,199.30 401.84,199.78 401.98,191.88 402.12,198.32 402.26,210.77 402.40,209.43 402.54,199.40 402.68,197.56 402.82,203.38 402.96,206.88 403.10,205.10 403.24,195.15 403.38,202.15 403.52,202.04 403.66,208.86 403.80,207.59 403.94,204.05 404.08,207.69 404.22,199.22 404.36,209.38 404.50,199.06 404.80,138.50 405.20,203.38 405.34,206.12 405.48,196.50 405.62,197.61 405.76,192.07 405.90,202.17 406.04,201.01 406.18,199.58 406.32,203.92 406.46,190.19 406.60,201.18 406.74,201.76 406.88,199.90 407.02,205.47 407.16,210.50 407.30,198.96 407.44,196.37 407.58,198.13 407.72,201.79 407.86,204.37 408.00,196.78 408.14,206.54 408.28,195.93 408.42,205.64 408.56,203.54 408.70,203.73 408.84,212.62 408.98,199.92 409.12,200.43 409.26,203.80 409.40,205.83 409.54,194.28 409.68,202.74 409.82,197.41 409.96,204.60 410.10,208.48 410.24,201.57 410.38,200.74 410.52,202.26 410.66,205.34 410.80,204.24 410.94,202.16 411.08,199.23 411.22,197.47 411.36,200.36 411.50,207.66 411.64,200.76 411.78,208.36 411.92,187.83 412.06,198.89 412.20,202.74 412.34,201.23 412.48,192.61 412.62,197.82 412.76,207.84 412.90,194.54 413.04,196.11 413.18,195.56 413.32,198.41 413.46,204.66 413.60,204.41 413.74,190.68 413.88,208.94 414.02,198.20 414.16,198.22 414.30,210.02 414.44,200.87 414.58,194.82 414.72,197.96 414.86,197.50 415.00,196.02 415.14,199.56 415.28,205.89 415.42,203.13 415.56,194.08 415.70,196.12 415.84,201.91 415.98,201.46 416.12,205.28 416.26,199.58 416.40,203.69 416.54,212.31 416.68,201.80 416.82,195.64 416.96,203.02 417.10,197.11 417.24,199.37 417.38,202.28 417.52,203.06 417.66,199.81 417.80,205.73 417.94,200.29 418.08,194.49 418.22,205.88 418.36,199.40 418.50,207.63 418.64,197.88 418.78,204.29 418.92,202.94 419.06,187.22 419.20,193.51 419.34,195.46 419.48,208.64 419.62,191.45 419.76,206.07 419.90,207.00 420.04,203.88 420.18,204.82 420.32,198.71 420.46,201.24 420.60,202.47 420.74,203.50 420.88,204.99 421.02,200.22 421.16,197.64 421.30,198.37 421.44,203.44 421.58,192.64 421.72,194.76 421.86,199.15 422.00,198.42 422.14,199.89 422.28,187.42 422.42,199.52 422.56,199.99 422.70,205.35 422.84,190.98 422.98,199.71 423.12,203.77 423.26,203.85 423.40,207.53 423.54,206.80 423.68,195.83 423.82,204.62 423.96,199.55 424.10,197.11 424.24,209.30 424.38,198.02 424.52,196.85 424.66,199.17 424.80,196.86 424.94,206.55 425.08,203.28 425.22,208.60 425.36,203.44 425.50,198.09 425.64,206.76 425.78,197.89 425.92,198.89 426.06,200.43 426.20,201.50 426.34,207.53 426.48,198.14 426.62,203.13 426.76,201.16 426.90,194.74 427.04,195.59 427.18,200.15 427.32,203.41 427.46,202.97 427.60,203.80 427.74,201.55 428.10,153.00 428.44,198.96 428.58,203.52 428.72,196.07 428.86,194.30 429.00,199.56 429.14,193.85 429.28,198.62 429.42,197.40 429.56,198.41 429.70,201.07 429.84,197.13 429.98,199.10 430.12,192.38 430.26,202.06 430.40,196.71 430.54,203.41 430.68,186.56 430.82,197.12 430.96,202.57 431.10,188.57 431.24,199.42 431.38,201.79 431.52,201.84 431.66,193.50 431.80,202.50 431.94,202.08 432.08,196.23 432.22,205.18 432.36,201.04 432.50,201.40 432.64,198.96 432.78,204.16 432.92,201.81 433.06,207.23 433.20,203.65 433.34,198.08 433.48,200.14 433.62,206.09 433.76,199.40 433.90,203.30 434.04,204.02 434.18,200.36 434.32,189.16 434.46,201.99 434.60,202.42 434.74,202.01 434.88,197.34 435.02,207.61 435.16,200.60 435.30,198.05 435.44,197.56 435.58,203.17 435.72,195.61 435.86,196.08 436.00,211.74 436.14,208.14 436.28,206.80 436.42,208.42 436.56,204.40 436.70,192.51 436.84,207.53 436.98,207.76 437.12,203.86 437.26,191.09 437.40,207.78 437.54,208.43 437.68,198.73 437.82,201.97 437.96,205.35 438.10,200.86 438.24,207.03 438.38,201.72 438.52,204.91 438.66,201.75 438.80,193.58 439.10,125.50 439.50,196.11 439.64,202.76 439.78,208.14 439.92,207.24 440.06,210.25 440.20,204.19 440.34,198.19 440.48,201.40 440.62,191.28 440.76,200.32 440.90,206.03 441.04,190.01 441.18,202.33 441.32,205.60 441.46,208.23 441.60,196.46 441.74,197.90 441.88,191.51 442.02,195.98 442.16,204.09 442.30,212.10 442.44,195.32 442.58,208.50 442.72,203.53 442.86,198.72 443.00,212.76 443.14,188.14 443.28,200.95 443.42,202.44 443.56,212.42 443.70,210.69 443.84,213.12 443.98,202.00 444.12,206.42 444.26,208.42 444.40,203.97 444.54,203.18 444.68,200.34 444.82,199.17 444.96,194.88 445.10,211.48 445.24,198.97 445.38,190.44 445.52,202.68 445.66,201.12 445.80,202.22 445.94,210.78 446.08,200.75 446.22,199.91 446.36,197.40 446.50,201.18 446.64,199.01 446.78,202.37 446.92,203.35 447.06,196.83 447.20,211.38 447.34,205.81 447.48,205.56 447.62,205.03 447.76,205.58 447.90,204.82 448.04,208.66 448.18,206.56 448.32,208.34 448.46,198.68 448.60,201.29 448.74,197.49 448.88,206.30 449.02,205.64 449.16,198.87 449.30,204.35 449.60,83.20 450.00,207.75 450.14,195.48 450.28,200.82 450.42,204.61 450.56,201.11 450.70,203.32 450.84,207.46 450.98,203.01 451.12,195.57 451.26,205.03 451.40,200.79 451.54,201.89 451.68,198.35 451.82,194.09 451.96,194.80 452.10,199.46 452.24,195.72 452.38,187.14 452.52,207.29 452.66,195.24 452.80,197.52 452.94,204.07 453.08,188.73 453.22,208.30 453.36,197.29 453.50,204.74 453.64,198.79 453.78,202.89 453.92,201.85 454.06,201.29 454.20,191.78 454.34,193.64 454.48,201.08 454.62,208.65 454.76,198.46 454.90,204.07 455.04,202.15 455.18,203.82 455.32,206.47 455.46,193.49 455.60,202.73 455.74,200.37 455.88,199.67 456.02,196.85 456.16,197.21 456.30,195.94 456.44,195.58 456.58,214.37 456.72,210.15 456.86,201.35 457.00,205.16 457.14,196.22 457.28,186.82 457.42,191.81 457.56,202.04 457.70,208.79 457.84,201.08 457.98,196.09 458.12,200.04 458.26,196.11 458.40,194.04 458.54,200.09 458.68,199.22 458.82,197.08 458.96,196.69 459.10,196.46 459.24,202.53 459.38,208.55 459.80,75.00 460.22,200.21 460.36,212.93 460.50,192.89 460.64,202.73 460.78,195.29 460.92,200.46 461.06,201.83 461.20,204.20 461.34,207.17 461.48,198.42 461.62,194.84 461.76,200.32 461.90,202.83 462.04,197.67 462.18,205.94 462.32,210.05 462.46,193.91 462.60,203.18 462.74,206.58 462.88,191.32 463.02,202.37 463.16,200.13 463.30,193.91 463.44,208.13 463.58,202.43 463.72,198.81 463.86,203.60 464.00,204.64 464.14,205.30 464.28,204.31 464.42,203.42 464.56,195.19 464.70,199.11 464.84,201.97 464.98,186.94 465.12,212.36 465.26,199.33 465.40,195.83 465.54,191.86 465.68,202.59 465.82,201.47 465.96,198.27 466.10,199.14 466.24,196.69 466.38,197.41 466.52,200.79 466.66,197.96 466.80,204.82 466.94,200.56 467.08,201.98 467.22,203.40 467.36,207.89 467.50,204.42 467.64,202.48 467.78,200.45 467.92,197.12 468.06,199.53 468.20,204.84 468.34,202.47 468.48,199.29 468.62,194.40 468.76,193.36 468.90,202.97 469.04,206.62 469.18,203.24 469.60,61.70 470.02,194.19 470.16,200.20 470.30,202.45 470.44,196.55 470.58,203.09 470.72,200.26 470.86,196.98 471.00,194.87 471.14,205.50 471.28,203.15 471.42,196.71 471.56,196.05 471.70,205.90 471.84,204.38 471.98,199.72 472.12,209.54 472.26,199.80 472.40,195.84 472.54,206.94 472.68,200.33 472.82,203.08 472.96,201.50 473.10,196.12 473.24,195.17 473.38,200.30 473.52,208.56 473.66,196.12 473.80,208.32 473.94,202.44 474.08,195.56 474.22,202.68 474.36,204.23 474.50,196.66 474.64,190.31 474.78,203.14 474.92,195.57 475.06,203.57 475.20,191.44 475.34,200.57 475.48,197.13 475.62,193.66 475.76,200.06 475.90,202.18 476.04,198.43 476.18,195.21 476.32,202.39 476.46,192.29 476.60,204.06 476.74,203.83 476.88,209.94 477.02,205.85 477.16,203.13 477.30,202.66 477.44,201.44 477.58,194.48 477.72,208.83 477.86,204.01 478.00,199.83 478.14,195.40 478.28,208.93 478.42,204.04 478.80,50.70 479.12,195.21 479.26,204.75 479.40,211.04 479.54,201.18 479.68,203.36 479.82,199.16 479.96,198.07 480.10,206.81 480.24,201.90 480.38,200.66 480.52,205.37 480.66,199.74 480.80,205.04 480.94,205.55 481.08,196.08 481.22,195.80 481.36,200.92 481.50,205.57 481.64,202.72 481.78,207.67 481.92,194.24 482.06,203.83 482.20,198.11 482.34,201.81 482.48,202.95 482.62,196.33 482.76,200.13 482.90,195.34 483.04,202.66 483.18,196.94 483.32,198.77 483.46,202.42 483.60,197.95 483.74,207.18 483.88,198.04 484.02,205.65 484.16,202.75 484.30,196.00 484.44,200.18 484.58,197.02 484.72,199.45 484.86,199.91 485.00,210.60 485.14,199.16 485.28,209.32 485.42,203.59 485.56,194.62 485.70,189.47 485.84,204.77 485.98,191.12 486.12,204.97 486.26,206.56 486.40,203.29 486.54,200.23 486.68,200.02 486.82,202.62 486.96,199.75 487.10,198.57 487.24,199.41 487.38,207.27 487.70,39.30 488.08,198.13 488.22,203.24 488.36,195.43 488.50,197.66 488.64,194.29 488.78,200.29 488.92,204.78 489.06,202.86 489.20,198.79 489.34,204.42 489.48,199.53 489.62,203.20 489.76,202.69 489.90,204.06 490.04,188.68 490.18,194.66 490.32,205.24 490.46,200.75 490.60,212.73 490.74,200.10 490.88,198.49 491.02,208.91 491.16,204.13 491.30,210.96 491.44,203.89 491.58,200.26 491.72,204.98 491.86,197.29 492.00,199.03 492.14,198.48 492.28,200.17 492.42,205.26 492.56,198.85 492.70,202.94 492.84,198.77 492.98,205.79 493.12,187.29 493.26,200.24 493.40,202.16 493.54,195.82 493.68,206.45 493.82,202.40 493.96,207.81 494.10,206.18 494.24,204.56 494.38,200.54 494.52,195.78 494.66,200.18 494.80,198.97 494.94,202.57 495.08,198.94 495.22,193.19 495.36,207.26 495.50,198.92 495.90,50.10 496.34,200.07 496.48,205.99 496.62,201.31 496.76,195.15 496.90,203.40 497.04,200.31 497.18,190.87 497.32,202.30 497.46,195.95 497.60,197.53 497.74,203.74 497.88,202.82 498.02,199.83 498.16,212.29 498.30,203.42 498.44,198.19 498.58,202.50 498.72,200.69 498.86,190.15 499.00,193.33 499.14,194.26 499.28,211.75 499.42,200.37 499.56,199.90 499.70,198.44 499.84,206.26 499.98,201.44 500.12,209.93 500.26,205.29 500.40,209.62 500.54,200.71 500.68,203.20 500.82,199.11 500.96,200.45 501.10,192.56 501.24,198.36 501.38,196.50 501.52,198.01 501.66,207.44 501.80,202.62 501.94,207.49 502.08,205.63 502.22,205.94 502.36,206.37 502.50,198.25 502.64,205.35 502.78,199.68 502.92,198.62 503.06,207.33 503.20,212.21 503.34,196.37 503.48,210.06 503.62,205.49 504.00,55.10 504.32,197.03 504.46,202.68 504.60,203.17 504.74,203.19 504.88,199.50 505.02,194.83 505.16,201.46 505.30,205.64 505.44,205.25 505.58,204.63 505.72,206.85 505.86,196.31 506.00,201.09 506.14,203.01 506.28,206.33 506.42,202.09 506.56,203.91 506.70,201.97 506.84,211.86 506.98,190.32 507.12,201.18 507.26,213.75 507.40,202.49 507.54,192.09 507.68,201.97 507.82,194.09 507.96,197.89 508.10,202.43 508.24,209.92 508.38,203.63 508.52,204.66 508.66,206.42 508.80,202.31 508.94,196.99 509.08,200.81 509.22,202.99 509.36,199.91 509.50,197.95 509.64,199.50 509.78,193.76 509.92,196.16 510.06,200.84 510.20,199.49 510.34,201.49 510.48,208.35 510.62,202.80 510.76,201.14 510.90,195.41 511.04,195.89 511.18,203.18 511.50,66.30 511.88,196.92 512.02,203.45 512.16,195.92 512.30,201.97 512.44,200.93 512.58,206.29 512.72,199.33 512.86,199.43 513.00,202.53 513.14,201.57 513.28,209.76 513.42,200.01 513.56,198.61 513.70,199.70 513.84,203.67 513.98,202.47 514.12,204.77 514.26,194.37 514.40,213.71 514.54,210.51 514.68,201.14 514.82,195.25 514.96,202.08 515.10,203.38 515.24,190.13 515.38,201.37 515.52,193.90 515.66,203.59 515.80,208.21 515.94,206.47 516.08,193.77 516.22,208.21 516.36,205.83 516.50,199.49 516.64,203.81 516.78,208.89 516.92,199.64 517.06,201.22 517.20,198.50 517.34,207.08 517.48,190.53 517.62,208.40 517.76,196.46 517.90,205.93 518.04,193.18 518.40,70.20 518.74,196.62 518.88,198.31 519.02,205.44 519.16,193.20 519.30,204.31 519.44,198.13 519.58,207.50 519.72,199.75 519.86,203.73 520.00,200.44 520.14,210.25 520.28,199.50 520.42,201.18 520.56,211.20 520.70,201.69 520.84,204.72 520.98,197.62 521.12,202.30 521.26,189.98 521.40,201.83 521.54,198.07 521.68,193.80 521.82,194.24 521.96,207.00 522.10,203.43 522.24,193.74 522.38,210.35 522.52,197.83 522.66,199.46 522.80,202.53 522.94,195.63 523.08,193.24 523.22,197.58 523.36,207.19 523.50,206.04 523.64,193.43 523.78,207.30 523.92,201.47 524.06,203.79 524.20,201.56 524.34,203.36 524.48,196.32 524.62,196.77 525.00,99.60 525.32,197.80 525.46,199.47 525.60,204.38 525.74,195.24 525.88,209.24 526.02,198.15 526.16,198.37 526.30,204.80 526.44,203.46 526.58,199.61 526.72,195.97 526.86,196.32 527.00,193.35 527.14,206.99 527.28,206.69 527.42,210.60 527.56,203.78 527.70,202.96 527.84,205.07 527.98,206.03 528.12,200.01 528.26,203.05 528.40,212.01 528.54,192.88 528.68,194.31 528.82,196.51 528.96,205.05 529.10,207.21 529.24,199.62 529.38,204.64 529.52,201.06 529.66,202.79 529.80,198.61 529.94,201.16 530.08,201.28 530.22,206.92 530.36,212.39 530.50,192.28 530.90,110.90 531.34,203.95 531.48,201.28 531.62,206.11 531.76,206.57 531.90,205.18 532.04,205.32 532.18,196.58 532.32,192.83 532.46,209.59 532.60,207.30 532.74,196.57 532.88,207.71 533.02,204.61 533.16,189.11 533.30,205.76 533.44,196.40 533.58,207.09 533.72,197.92 533.86,197.61 534.00,193.63 534.14,200.22 534.28,206.35 534.42,197.97 534.56,192.07 534.70,211.94 534.84,210.46 534.98,204.73 535.12,198.63 535.26,195.29 535.40,193.17 535.54,204.07 535.90,131.50 536.24,207.75 536.38,196.04 536.52,201.30 536.66,199.92 536.80,200.03 536.94,203.79 537.08,211.68 537.22,198.14 537.36,205.51 537.50,206.70 537.64,199.89 537.78,200.56 537.92,194.65 538.06,206.65 538.20,198.67 538.34,198.06 538.48,201.63 538.62,197.05 538.76,196.13 538.90,199.82 539.04,208.67 539.18,200.28 539.32,203.91 539.46,194.03 539.60,191.65 539.74,210.31 539.88,199.33 540.02,193.68 540.16,200.78 540.30,204.31 540.44,192.74 540.80,130.00 541.14,196.93 541.28,202.59 541.42,196.73 541.56,205.25 541.70,206.06 541.84,203.49 541.98,199.17 542.12,201.07 542.26,198.17 542.40,200.65 542.54,202.87 542.68,199.81 542.82,206.12 542.96,214.15 543.10,198.59 543.24,203.00 543.38,205.38 543.52,204.49 543.66,200.12 543.80,198.93 543.94,206.27 544.08,204.39 544.22,203.81 544.36,197.32 544.50,204.43 544.64,205.24 544.78,200.38 544.92,204.50 545.30,152.90 545.62,212.05 545.76,192.01 545.90,204.30 546.04,195.50 546.18,194.55 546.32,200.14 546.46,204.00 546.60,201.56 546.74,195.53 546.88,194.18 547.02,198.55 547.16,201.37 547.30,197.19 547.44,193.86 547.58,209.99 547.72,197.15 547.86,200.53 548.00,198.59 548.14,198.40 548.28,201.50 548.42,199.83 548.56,204.37 548.70,195.43 548.84,193.94 549.20,157.60 549.54,210.95 549.68,200.93 549.82,205.10 549.96,207.14 550.10,204.04 550.24,201.48 550.38,193.60 550.52,193.37 550.66,206.14 550.80,204.65 550.94,204.12 551.08,193.09 551.22,190.75 551.36,196.07 551.50,195.45 551.64,202.09 551.78,196.24 551.92,209.13 552.06,198.22 552.20,198.52 552.34,205.58 552.48,202.93 552.62,196.85 552.76,205.37 552.90,210.82 553.20,160.40 553.60,195.23 553.74,200.07 553.88,195.97 554.02,191.69 554.16,204.40 554.30,204.75 554.44,206.12 554.58,203.42 554.72,191.33 554.86,201.17 555.00,197.99 555.14,195.47 555.28,195.82 555.42,205.09 555.80,170.50 556.12,199.83 556.26,211.03 556.40,203.63 556.54,191.85 556.68,205.73 556.82,207.49 556.96,201.46 557.10,195.29 557.24,210.06 557.38,194.79 557.52,200.88 557.66,191.86 557.80,195.09 557.94,192.88 558.08,206.70 558.22,207.14 558.60,165.10 558.92,199.29 559.06,194.58 559.20,201.00 559.34,203.18 559.48,193.74 559.62,195.56 559.76,200.79 559.90,204.79 560.04,201.67 560.18,203.53 560.32,195.11 560.46,188.95 560.60,202.85 560.74,196.75 560.88,200.68 561.02,199.43 561.16,203.68 561.30,197.47 561.44,208.46 561.58,201.45 561.72,203.93 561.86,204.42 562.00,206.45 562.14,203.30 562.28,192.61 562.42,198.18 562.56,210.54 562.90,169.80 563.26,203.65 563.40,204.08 563.54,203.62 563.68,198.12 563.82,197.93 563.96,198.09 564.10,207.05 564.24,203.11 564.38,210.14 564.52,203.78 564.66,210.69 564.80,203.57 564.94,195.42 565.08,209.95 565.22,202.98 565.36,207.22 565.50,202.37 565.64,199.67 565.78,202.14 565.92,195.72 566.06,195.36 566.20,196.88 566.34,198.69 566.48,194.55 566.62,200.79 566.76,202.82 566.90,211.39 567.04,210.46 567.18,201.05 567.32,205.70 567.46,200.21 567.60,203.24 567.74,201.13 567.88,198.61 568.02,201.68 568.16,193.94 568.30,203.49 568.44,199.86 568.58,195.91 568.72,199.51 568.86,204.06 569.00,197.91 569.14,203.67 569.28,204.14 569.42,209.07 569.56,195.88 569.70,200.75 569.84,203.85 569.98,208.78 570.12,202.61 570.26,205.06 570.40,193.98 570.54,198.39 570.68,209.58 570.82,199.88 570.96,212.08 571.10,197.67 571.24,199.91 571.38,193.35 571.52,204.47 571.66,202.62 571.80,211.37 571.94,202.13 572.08,200.05 572.22,194.27 572.36,200.89 572.50,206.02 572.64,205.00 572.78,207.43 572.92,205.62 573.06,201.07 573.20,204.32 573.34,202.16 573.48,194.65 573.62,209.85 573.76,203.17 573.90,196.05 574.04,203.22 574.18,202.74 574.32,206.28 574.46,208.51 574.60,204.07 574.74,208.95 574.88,196.56 575.02,192.02 575.16,202.70 575.30,202.98 575.44,203.05 575.58,195.75 575.72,198.97 575.86,202.27 576.00,205.02 576.14,212.26 576.28,202.77 576.42,198.29 576.56,189.50 576.70,206.67 576.84,200.64 576.98,200.75 577.12,196.36 577.26,204.97 577.40,192.34 577.54,201.84 577.68,201.91 577.82,202.80 577.96,207.83 578.10,200.81 578.24,201.77 578.38,205.58 578.52,193.54 578.66,199.84 578.80,201.64 578.94,206.08 579.08,197.30 579.22,205.32 579.36,203.22 579.50,193.86 579.64,193.90 579.78,194.13 579.92,202.00 580.06,202.33 580.20,204.92 580.34,205.41 580.48,198.54 580.62,206.65 580.76,205.40 580.90,203.66 581.04,203.70 581.18,194.86 581.32,203.11 581.46,196.13 581.60,195.33 581.74,199.55 581.88,202.00 582.02,201.03 582.16,199.65 582.30,196.29 582.44,202.23 582.58,197.59 582.72,194.25 582.86,201.77 583.00,208.58 583.14,199.27 583.28,195.99 583.42,208.23 583.56,209.87 583.70,199.83 583.84,200.24 583.98,202.36 584.12,201.97 584.26,206.28 584.40,203.52 584.54,192.19 584.68,195.78 584.82,195.13 584.96,203.47 585.10,201.83 585.24,210.26 585.38,199.95 585.52,202.84 585.66,201.68 585.80,202.00 585.94,212.89 586.08,202.73 586.22,208.67 586.36,207.80 586.50,198.26 586.64,204.73 586.78,199.39 586.92,201.85 587.06,202.09 587.20,201.41 587.34,198.95 587.48,209.09 587.62,199.97 587.76,204.82 587.90,209.70 588.04,204.43 588.18,206.44 588.60,184.60 589.02,208.25 589.16,206.74 589.30,209.90 589.44,194.16 589.58,211.10 589.72,201.44 589.86,192.56 590.00,198.10 590.14,194.32 590.28,201.19 590.42,193.85 590.56,196.27 590.70,202.78 590.84,202.08 590.98,197.31 591.12,200.13 591.26,200.80 591.40,201.67 591.54,201.27 591.68,200.19 591.82,205.69 591.96,193.27 592.10,198.83 592.24,201.97 592.38,199.29 592.52,198.54 592.66,199.11 592.80,202.34 592.94,207.53 593.08,200.37 593.22,199.96 593.36,203.08 593.50,200.09 593.64,191.62 593.78,202.64 593.92,199.41 594.06,198.44 594.20,204.44 594.34,201.52 594.48,198.48 594.62,190.41 594.76,192.70 594.90,201.37 595.04,200.71 595.18,203.49 595.32,202.42 595.46,198.91 595.60,194.98 595.74,195.83 595.88,200.60 596.02,195.56 596.16,205.08 596.30,194.67 596.44,192.34 596.58,200.33 596.72,192.43 596.86,209.43"/>
<polyline fill="none" stroke="#0a0ac0" stroke-width="1.55" stroke-linejoin="round" points="27.90,217.72 28.10,217.79 28.30,217.93 28.40,218.07 28.50,218.32 28.60,218.84 28.70,220.13 28.75,221.57 28.80,224.31 28.85,229.06 28.90,232.60 28.95,229.06 29.00,224.31 29.05,221.57 29.10,220.13 29.20,218.84 29.30,218.32 29.40,218.07 29.50,217.93 29.70,217.79 29.90,217.72 30.00,217.70 30.40,217.66 30.90,217.63 31.40,217.62 31.90,217.61 32.40,217.61 32.90,217.61 33.40,217.61 33.90,217.61 34.40,217.61 34.90,217.61 35.40,217.61 35.50,217.61 35.90,217.61 36.00,217.61 36.40,217.62 36.70,217.63 36.90,217.65 37.10,217.70 37.20,217.77 37.30,217.94 37.35,218.13 37.40,218.50 37.45,219.13 37.50,219.60 37.55,219.13 37.60,218.50 37.65,218.13 37.70,217.94 37.80,217.77 37.90,217.70 38.10,217.65 38.30,217.63 38.40,217.62 38.60,217.62 38.90,217.61 39.00,217.61 39.40,217.61 39.50,217.61 39.90,217.61 40.40,217.60 40.90,217.60 41.40,217.60 41.90,217.60 42.40,217.60 42.90,217.60 43.40,217.60 43.90,217.60 44.40,217.60 44.90,217.60 45.40,217.61 45.90,217.61 46.40,217.61 46.90,217.61 47.40,217.61 47.90,217.61 48.40,217.62 48.90,217.62 49.20,217.63 49.40,217.64 49.70,217.66 49.90,217.67 50.10,217.70 50.40,217.79 50.60,217.94 50.80,218.33 50.90,218.86 51.00,220.16 51.05,221.62 51.10,224.40 51.15,229.22 51.20,232.80 51.25,229.22 51.30,224.40 51.35,221.62 51.40,220.16 51.50,218.86 51.60,218.33 51.80,217.94 51.90,217.85 52.00,217.79 52.30,217.70 52.40,217.69 52.70,217.66 52.90,217.64 53.20,217.63 53.40,217.63 53.90,217.62 54.40,217.61 54.90,217.61 55.40,217.61 55.90,217.61 56.40,217.61 56.90,217.61 57.40,217.60 57.90,217.60 58.40,217.60 58.90,217.60 59.40,217.60 59.90,217.60 60.40,217.60 60.90,217.60 61.40,217.60 61.90,217.60 62.40,217.60 62.90,217.60 63.40,217.60 63.90,217.60 64.40,217.60 64.90,217.60 65.40,217.61 65.90,217.61 66.40,217.61 66.90,217.61 67.40,217.61 67.90,217.61 68.20,217.61 68.40,217.61 68.70,217.62 68.90,217.62 69.10,217.63 69.40,217.64 69.60,217.66 69.80,217.71 69.90,217.78 70.00,217.96 70.05,218.15 70.10,218.52 70.15,219.15 70.20,219.62 70.25,219.15 70.30,218.52 70.35,218.15 70.40,217.96 70.50,217.79 70.60,217.73 70.80,217.68 70.90,217.67 71.00,217.67 71.30,217.67 71.40,217.68 71.70,217.71 71.80,217.73 71.90,217.76 72.10,217.84 72.20,217.90 72.30,218.01 72.40,218.18 72.50,218.49 72.60,219.12 72.70,220.70 72.75,222.47 72.80,225.84 72.85,231.66 72.90,236.00 72.95,231.66 73.00,225.84 73.05,222.47 73.10,220.70 73.20,219.12 73.30,218.49 73.40,218.18 73.50,218.01 73.70,217.83 73.90,217.75 74.00,217.73 74.40,217.67 74.90,217.64 75.40,217.63 75.90,217.62 76.40,217.61 76.90,217.61 77.40,217.61 77.90,217.61 78.40,217.61 78.90,217.61 79.40,217.61 79.90,217.61 80.40,217.61 80.90,217.60 81.40,217.60 81.90,217.60 82.40,217.60 82.90,217.60 83.40,217.60 83.90,217.60 84.40,217.60 84.90,217.60 85.40,217.61 85.90,217.61 86.40,217.61 86.90,217.61 87.40,217.61 87.90,217.61 88.40,217.61 88.90,217.61 89.40,217.61 89.90,217.61 90.40,217.62 90.90,217.62 91.40,217.64 91.80,217.65 91.90,217.65 92.30,217.69 92.40,217.70 92.70,217.76 92.90,217.84 93.00,217.90 93.20,218.12 93.40,218.73 93.50,219.54 93.60,221.56 93.65,223.82 93.70,228.12 93.75,235.56 93.80,241.10 93.85,235.56 93.90,228.12 93.95,223.82 94.00,221.56 94.10,219.54 94.20,218.74 94.40,218.12 94.60,217.90 94.90,217.76 95.30,217.69 95.40,217.68 95.80,217.65 95.90,217.65 96.40,217.63 96.90,217.62 97.40,217.62 97.90,217.62 98.40,217.62 98.60,217.62 98.90,217.62 99.10,217.62 99.40,217.63 99.50,217.63 99.80,217.65 99.90,217.66 100.00,217.67 100.20,217.75 100.30,217.85 100.40,218.11 100.45,218.40 100.50,218.95 100.55,219.90 100.60,220.61 100.65,219.90 100.70,218.95 100.75,218.40 100.80,218.11 100.90,217.85 101.00,217.75 101.20,217.67 101.40,217.64 101.70,217.63 101.90,217.62 102.10,217.62 102.40,217.61 102.60,217.61 102.90,217.61 103.40,217.61 103.90,217.61 104.40,217.61 104.90,217.61 105.40,217.61 105.90,217.61 106.40,217.61 106.90,217.61 107.40,217.61 107.90,217.61 108.40,217.61 108.90,217.61 109.40,217.61 109.90,217.61 110.40,217.62 110.90,217.62 111.40,217.63 111.90,217.64 112.40,217.66 112.50,217.66 112.90,217.70 113.00,217.71 113.40,217.81 113.70,217.99 113.90,218.28 114.10,219.09 114.20,220.15 114.30,222.79 114.35,225.76 114.40,231.39 114.45,241.14 114.50,248.40 114.55,241.14 114.60,231.39 114.65,225.76 114.70,222.79 114.80,220.15 114.90,219.09 115.10,218.28 115.30,217.99 115.40,217.91 115.60,217.81 115.90,217.73 116.00,217.71 116.40,217.67 116.50,217.67 116.90,217.65 117.40,217.63 117.90,217.62 118.40,217.62 118.90,217.62 119.40,217.61 119.90,217.61 120.40,217.61 120.90,217.61 121.40,217.61 121.90,217.61 122.40,217.61 122.90,217.61 123.40,217.61 123.90,217.61 124.40,217.61 124.90,217.61 125.40,217.61 125.90,217.61 126.40,217.61 126.90,217.61 127.40,217.61 127.90,217.62 128.00,217.62 128.40,217.62 128.50,217.63 128.90,217.64 129.20,217.66 129.40,217.70 129.60,217.80 129.70,217.94 129.80,218.27 129.85,218.65 129.90,219.36 129.95,220.60 130.00,221.52 130.05,220.60 130.10,219.37 130.15,218.65 130.20,218.28 130.30,217.94 130.40,217.81 130.60,217.71 130.80,217.68 130.90,217.67 131.10,217.66 131.40,217.65 131.50,217.65 131.90,217.66 132.00,217.67 132.40,217.69 132.90,217.75 133.30,217.86 133.40,217.92 133.60,218.09 133.80,218.46 133.90,218.83 134.00,219.48 134.10,220.82 134.20,224.16 134.25,227.90 134.30,235.01 134.35,247.33 134.40,256.50 134.45,247.33 134.50,235.01 134.55,227.90 134.60,224.16 134.70,220.82 134.80,219.48 134.90,218.83 135.00,218.46 135.20,218.09 135.40,217.92 135.50,217.86 135.90,217.74 136.40,217.68 136.90,217.65 137.40,217.64 137.90,217.63 138.40,217.62 138.90,217.62 139.40,217.62 139.90,217.61 140.40,217.61 140.90,217.61 141.40,217.61 141.90,217.61 142.40,217.61 142.90,217.61 143.40,217.61 143.90,217.61 144.40,217.61 144.90,217.61 145.40,217.61 145.90,217.61 146.40,217.61 146.90,217.61 147.40,217.61 147.90,217.61 148.40,217.62 148.90,217.62 149.40,217.62 149.90,217.63 150.40,217.63 150.90,217.64 151.40,217.66 151.90,217.68 152.20,217.70 152.40,217.73 152.70,217.78 152.90,217.84 153.10,217.93 153.40,218.21 153.60,218.68 153.80,219.95 153.90,221.63 154.00,225.81 154.05,230.50 154.10,239.40 154.15,254.82 154.20,266.31 154.25,254.82 154.30,239.40 154.35,230.50 154.40,225.81 154.50,221.63 154.60,219.95 154.80,218.68 154.90,218.40 155.00,218.22 155.30,217.93 155.40,217.88 155.70,217.79 155.90,217.75 156.20,217.72 156.40,217.70 156.80,217.69 156.90,217.69 157.10,217.71 157.30,217.74 157.40,217.78 157.50,217.85 157.60,218.00 157.70,218.38 157.75,218.80 157.80,219.60 157.85,221.00 157.90,222.03 157.95,221.00 158.00,219.60 158.05,218.80 158.10,218.37 158.20,217.99 158.30,217.84 158.40,217.77 158.50,217.72 158.70,217.68 158.90,217.66 159.00,217.65 159.40,217.64 159.90,217.63 160.40,217.62 160.90,217.62 161.40,217.62 161.90,217.62 162.40,217.61 162.90,217.61 163.40,217.61 163.90,217.61 164.40,217.61 164.90,217.61 165.40,217.61 165.90,217.62 166.40,217.62 166.90,217.62 167.40,217.62 167.90,217.62 168.40,217.63 168.90,217.63 169.40,217.64 169.90,217.65 170.40,217.66 170.90,217.68 171.40,217.73 171.90,217.82 172.30,218.01 172.40,218.09 172.60,218.36 172.80,218.93 172.90,219.49 173.00,220.51 173.10,222.58 173.20,227.74 173.25,233.54 173.30,244.55 173.35,263.61 173.40,277.81 173.45,263.61 173.50,244.55 173.55,233.54 173.60,227.74 173.70,222.58 173.80,220.51 173.90,219.49 174.00,218.93 174.20,218.36 174.40,218.09 174.50,218.01 174.90,217.82 175.40,217.73 175.90,217.68 176.40,217.66 176.90,217.65 177.40,217.64 177.90,217.63 178.40,217.63 178.90,217.62 179.40,217.62 179.90,217.62 180.40,217.62 180.90,217.62 181.40,217.62 181.90,217.62 182.40,217.62 182.90,217.62 183.40,217.63 183.90,217.64 184.30,217.65 184.40,217.66 184.60,217.69 184.80,217.74 184.90,217.79 185.00,217.88 185.10,218.07 185.20,218.53 185.25,219.05 185.30,220.04 185.35,221.75 185.40,223.02 185.45,221.75 185.50,220.04 185.55,219.05 185.60,218.53 185.70,218.07 185.80,217.88 185.90,217.79 186.00,217.74 186.20,217.69 186.40,217.67 186.50,217.66 186.90,217.65 187.40,217.65 187.90,217.65 188.40,217.66 188.90,217.67 189.40,217.70 189.90,217.74 190.00,217.76 190.40,217.84 190.50,217.87 190.90,218.09 191.20,218.52 191.40,219.21 191.60,221.12 191.70,223.63 191.80,229.90 191.85,236.93 191.90,250.28 191.95,273.39 192.00,290.61 192.05,273.39 192.10,250.28 192.15,236.93 192.20,229.90 192.30,223.63 192.40,221.12 192.60,219.21 192.80,218.52 192.90,218.33 193.10,218.09 193.40,217.91 193.50,217.87 193.90,217.77 194.00,217.75 194.40,217.71 194.90,217.68 195.40,217.66 195.90,217.65 196.40,217.64 196.90,217.63 197.40,217.63 197.90,217.63 198.40,217.62 198.90,217.62 199.40,217.62 199.90,217.62 200.40,217.62 200.90,217.62 201.40,217.62 201.90,217.62 202.40,217.62 202.90,217.62 203.40,217.63 203.90,217.63 204.40,217.63 204.90,217.64 205.40,217.64 205.90,217.65 206.40,217.67 206.90,217.69 207.40,217.73 207.80,217.78 207.90,217.80 208.30,217.92 208.40,217.96 208.70,218.18 208.90,218.46 209.00,218.69 209.20,219.51 209.40,221.77 209.50,224.73 209.60,232.13 209.65,240.43 209.70,256.19 209.75,283.48 209.80,303.81 209.85,283.48 209.90,256.19 209.95,240.43 210.00,232.13 210.10,224.73 210.20,221.77 210.40,219.51 210.60,218.70 210.90,218.20 211.10,218.04 211.30,217.95 211.40,217.91 211.50,217.89 211.80,217.86 211.90,217.86 212.00,217.88 212.20,218.01 212.30,218.21 212.40,218.70 212.45,219.27 212.50,220.34 212.55,222.21 212.60,223.60 212.65,222.20 212.70,220.33 212.75,219.25 212.80,218.68 212.90,218.17 213.00,217.96 213.20,217.80 213.40,217.74 213.70,217.69 213.90,217.68 214.10,217.67 214.40,217.66 214.60,217.65 214.90,217.65 215.40,217.64 215.90,217.63 216.40,217.63 216.90,217.63 217.40,217.63 217.90,217.63 218.40,217.63 218.90,217.62 219.40,217.63 219.90,217.63 220.40,217.63 220.90,217.63 221.40,217.63 221.90,217.63 222.40,217.64 222.90,217.65 223.40,217.65 223.90,217.67 224.40,217.68 224.90,217.71 225.40,217.76 225.70,217.81 225.90,217.86 226.20,217.97 226.40,218.09 226.60,218.28 226.90,218.86 227.10,219.82 227.30,222.44 227.40,225.89 227.50,234.50 227.55,244.16 227.60,262.50 227.65,294.25 227.70,317.91 227.75,294.25 227.80,262.50 227.85,244.16 227.90,234.50 228.00,225.89 228.10,222.44 228.30,219.82 228.40,219.24 228.50,218.86 228.80,218.28 228.90,218.17 229.20,217.97 229.40,217.89 229.70,217.81 229.90,217.78 230.40,217.72 230.90,217.69 231.40,217.67 231.90,217.66 232.40,217.65 232.90,217.64 233.40,217.64 233.90,217.64 234.40,217.64 234.90,217.64 235.40,217.64 235.50,217.64 235.90,217.65 236.00,217.65 236.40,217.67 236.70,217.70 236.90,217.76 237.10,217.92 237.20,218.13 237.30,218.64 237.35,219.22 237.40,220.32 237.45,222.22 237.50,223.63 237.55,222.22 237.60,220.32 237.65,219.22 237.70,218.64 237.80,218.13 237.90,217.92 238.10,217.77 238.30,217.71 238.40,217.69 238.60,217.68 238.90,217.66 239.00,217.66 239.40,217.66 239.50,217.66 239.90,217.66 240.40,217.66 240.90,217.68 241.40,217.69 241.90,217.72 242.40,217.77 242.80,217.84 242.90,217.87 243.30,218.02 243.40,218.08 243.70,218.38 243.90,218.75 244.00,219.05 244.20,220.14 244.40,223.14 244.50,227.09 244.60,236.94 244.65,248.00 244.70,268.99 244.75,305.34 244.80,332.41 244.85,305.34 244.90,268.99 244.95,248.00 245.00,236.94 245.10,227.09 245.20,223.14 245.40,220.14 245.60,219.05 245.90,218.37 246.30,218.02 246.40,217.97 246.80,217.84 246.90,217.82 247.40,217.75 247.90,217.71 248.40,217.68 248.90,217.67 249.40,217.66 249.90,217.65 250.40,217.64 250.90,217.64 251.40,217.64 251.90,217.64 252.40,217.63 252.90,217.63 253.40,217.63 253.90,217.63 254.40,217.64 254.90,217.64 255.40,217.64 255.90,217.65 256.40,217.65 256.90,217.66 257.40,217.67 257.90,217.68 258.40,217.70 258.90,217.74 259.40,217.80 259.80,217.88 259.90,217.91 260.30,218.08 260.40,218.15 260.70,218.49 260.90,218.92 261.00,219.26 261.20,220.51 261.40,223.96 261.50,228.49 261.60,239.81 261.65,252.50 261.70,276.59 261.75,318.33 261.80,349.41 261.85,318.33 261.90,276.59 261.95,252.50 262.00,239.81 262.10,228.49 262.20,223.96 262.40,220.51 262.60,219.26 262.90,218.49 263.30,218.09 263.40,218.03 263.80,217.88 263.90,217.85 264.40,217.77 264.90,217.72 265.40,217.70 265.90,217.68 266.40,217.67 266.90,217.66 267.40,217.65 267.90,217.65 268.40,217.64 268.90,217.64 269.40,217.64 269.90,217.64 270.40,217.64 270.90,217.64 271.40,217.65 271.90,217.65 272.40,217.65 272.90,217.66 273.40,217.67 273.90,217.68 274.40,217.70 274.90,217.73 275.40,217.78 275.90,217.87 276.00,217.90 276.40,218.05 276.50,218.11 276.90,218.54 277.20,219.35 277.40,220.67 277.60,224.30 277.70,229.07 277.80,240.97 277.85,254.33 277.90,279.69 277.95,323.60 278.00,356.32 278.05,323.60 278.10,279.69 278.15,254.33 278.20,240.97 278.30,229.07 278.40,224.30 278.60,220.67 278.80,219.35 278.90,218.99 279.10,218.54 279.40,218.19 279.50,218.11 279.90,217.93 280.00,217.90 280.40,217.81 280.90,217.75 281.40,217.72 281.90,217.70 282.40,217.69 282.90,217.68 283.40,217.69 283.80,217.71 283.90,217.72 284.10,217.76 284.30,217.84 284.40,217.92 284.50,218.06 284.60,218.36 284.70,219.10 284.75,219.92 284.80,221.50 284.85,224.22 284.90,226.25 284.95,224.22 285.00,221.49 285.05,219.92 285.10,219.09 285.20,218.36 285.30,218.06 285.40,217.91 285.50,217.83 285.70,217.75 285.90,217.71 286.00,217.70 286.40,217.68 286.90,217.66 287.40,217.66 287.90,217.66 288.40,217.66 288.90,217.67 289.40,217.68 289.90,217.69 290.40,217.71 290.90,217.74 291.40,217.80 291.90,217.89 292.00,217.92 292.40,218.08 292.50,218.15 292.90,218.60 293.20,219.47 293.40,220.88 293.60,224.76 293.70,229.85 293.80,242.57 293.85,256.85 293.90,283.94 293.95,330.86 294.00,365.82 294.05,330.86 294.10,283.94 294.15,256.85 294.20,242.57 294.30,229.85 294.40,224.76 294.60,220.88 294.80,219.47 294.90,219.08 295.10,218.60 295.40,218.23 295.50,218.15 295.90,217.95 296.00,217.92 296.40,217.83 296.90,217.76 297.40,217.72 297.90,217.70 298.40,217.68 298.90,217.67 299.40,217.67 299.90,217.66 300.40,217.66 300.90,217.66 301.40,217.66 301.90,217.66 302.40,217.66 302.90,217.66 303.40,217.67 303.90,217.68 304.40,217.70 304.90,217.72 305.00,217.73 305.40,217.76 305.50,217.77 305.90,217.83 306.20,217.92 306.40,218.04 306.60,218.33 306.70,218.68 306.80,219.51 306.85,220.43 306.90,222.17 306.95,225.17 307.00,227.40 307.05,225.21 307.10,222.26 307.15,220.56 307.20,219.69 307.30,218.95 307.40,218.71 307.60,218.69 307.70,218.80 307.80,218.98 307.90,219.24 308.00,219.62 308.10,220.19 308.20,221.07 308.40,225.10 308.50,230.40 308.60,243.65 308.65,258.52 308.70,286.74 308.75,335.63 308.80,372.04 308.85,335.62 308.90,286.73 308.95,258.51 309.00,243.64 309.10,230.38 309.20,225.07 309.40,221.03 309.60,219.56 309.90,218.65 310.30,218.18 310.40,218.11 310.80,217.94 310.90,217.91 311.40,217.81 311.90,217.75 312.40,217.72 312.90,217.70 313.40,217.68 313.90,217.67 314.40,217.66 314.90,217.66 315.40,217.66 315.90,217.65 316.40,217.65 316.90,217.65 317.40,217.65 317.90,217.66 318.40,217.66 318.90,217.67 319.40,217.67 319.90,217.68 320.40,217.70 320.90,217.72 321.40,217.76 321.90,217.81 322.40,217.92 322.50,217.95 322.90,218.13 323.00,218.20 323.40,218.69 323.70,219.63 323.90,221.15 324.10,225.34 324.20,230.84 324.30,244.57 324.35,259.98 324.40,289.23 324.45,339.90 324.50,377.63 324.55,339.90 324.60,289.24 324.65,259.99 324.70,244.58 324.80,230.85 324.90,225.35 325.00,222.66 325.10,221.16 325.30,219.65 325.40,219.24 325.50,218.94 325.60,218.73 325.90,218.35 326.00,218.28 326.20,218.20 326.40,218.21 326.50,218.27 326.60,218.41 326.70,218.75 326.80,219.62 326.85,220.61 326.90,222.50 326.95,225.78 327.00,228.23 327.05,225.77 327.10,222.47 327.15,220.56 327.20,219.55 327.30,218.64 327.40,218.28 327.60,217.98 327.80,217.87 327.90,217.84 328.10,217.79 328.40,217.75 328.50,217.74 328.90,217.71 329.00,217.71 329.40,217.69 329.90,217.68 330.40,217.67 330.90,217.67 331.40,217.67 331.90,217.67 332.40,217.67 332.90,217.67 333.40,217.67 333.90,217.68 334.40,217.69 334.90,217.71 335.40,217.73 335.90,217.77 336.40,217.82 336.90,217.93 337.00,217.96 337.40,218.15 337.50,218.23 337.90,218.74 338.20,219.73 338.40,221.33 338.60,225.74 338.70,231.53 338.80,245.98 338.85,262.20 338.90,292.98 338.95,346.30 339.00,386.02 339.05,346.31 339.10,292.98 339.15,262.20 339.20,245.98 339.30,231.53 339.40,225.74 339.60,221.33 339.80,219.73 339.90,219.29 340.10,218.74 340.40,218.32 340.50,218.23 340.90,218.00 341.00,217.96 341.40,217.86 341.90,217.79 342.40,217.74 342.90,217.72 343.40,217.70 343.90,217.69 344.40,217.68 344.90,217.68 345.40,217.68 345.90,217.68 346.40,217.69 346.90,217.71 347.30,217.75 347.40,217.77 347.60,217.82 347.80,217.93 347.90,218.04 348.00,218.23 348.10,218.63 348.20,219.61 348.25,220.71 348.30,222.79 348.35,226.40 348.40,229.09 348.45,226.41 348.50,222.80 348.55,220.71 348.60,219.62 348.70,218.64 348.80,218.25 348.90,218.07 349.00,217.96 349.20,217.86 349.40,217.82 349.50,217.81 349.90,217.81 350.40,217.85 350.90,217.94 351.10,218.00 351.40,218.14 351.60,218.28 351.90,218.64 352.00,218.83 352.30,219.88 352.40,220.55 352.50,221.59 352.70,226.30 352.80,232.49 352.90,247.94 352.95,265.27 353.00,298.18 353.05,355.17 353.10,397.63 353.15,355.17 353.20,298.18 353.25,265.27 353.30,247.94 353.40,232.49 353.50,226.30 353.70,221.59 353.90,219.87 354.20,218.82 354.40,218.48 354.60,218.27 354.90,218.07 355.10,217.99 355.40,217.90 355.90,217.81 356.40,217.76 356.90,217.73 357.40,217.71 357.90,217.69 358.40,217.68 358.90,217.68 359.40,217.67 359.90,217.67 360.40,217.67 360.90,217.68 361.40,217.68 361.90,217.69 362.40,217.70 362.90,217.72 363.40,217.74 363.90,217.78 364.40,217.85 364.90,217.96 365.00,218.00 365.40,218.21 365.50,218.29 365.90,218.86 366.20,219.94 366.40,221.71 366.60,226.57 366.70,232.95 366.80,248.88 366.85,266.75 366.90,300.68 366.95,359.45 367.00,403.22 367.05,359.45 367.10,300.68 367.15,266.75 367.20,248.88 367.30,232.95 367.40,226.57 367.60,221.71 367.80,219.94 367.90,219.46 368.10,218.86 368.40,218.39 368.50,218.29 368.90,218.04 369.00,218.00 369.40,217.89 369.90,217.80 370.40,217.76 370.90,217.73 371.40,217.71 371.90,217.70 372.40,217.69 372.90,217.68 373.40,217.68 373.90,217.68 374.40,217.68 374.90,217.69 375.40,217.70 375.90,217.72 376.40,217.75 376.90,217.79 377.40,217.87 377.70,217.95 377.90,218.02 378.20,218.19 378.40,218.38 378.60,218.68 378.90,219.60 379.10,221.10 379.30,225.23 379.40,230.66 379.50,244.22 379.55,259.42 379.60,288.29 379.65,338.28 379.70,375.53 379.75,338.29 379.80,288.29 379.85,259.42 379.90,244.22 380.00,230.66 380.10,225.23 380.30,221.10 380.40,220.19 380.50,219.60 380.80,218.68 380.90,218.51 381.20,218.20 381.40,218.07 381.70,217.95 381.90,217.90 382.40,217.82 382.90,217.78 383.30,217.79 383.40,217.80 383.60,217.84 383.80,217.93 383.90,218.02 384.00,218.19 384.10,218.55 384.20,219.44 384.25,220.44 384.30,222.34 384.35,225.63 384.40,228.08 384.45,225.63 384.50,222.34 384.55,220.43 384.60,219.43 384.70,218.54 384.80,218.18 384.90,218.00 385.00,217.90 385.20,217.80 385.40,217.75 385.50,217.74 385.90,217.70 386.40,217.68 386.90,217.68 387.40,217.68 387.90,217.68 388.40,217.68 388.90,217.70 389.40,217.72 389.90,217.75 390.40,217.81 390.60,217.85 390.90,217.94 391.10,218.03 391.40,218.26 391.50,218.38 391.80,219.04 391.90,219.47 392.00,220.13 392.20,223.11 392.30,227.03 392.40,236.80 392.45,247.77 392.50,268.59 392.55,304.66 392.60,331.52 392.65,304.66 392.70,268.59 392.75,247.77 392.80,236.80 392.90,227.02 393.00,223.11 393.20,220.13 393.40,219.04 393.70,218.38 393.90,218.16 394.10,218.03 394.40,217.90 394.60,217.85 394.90,217.79 395.40,217.74 395.90,217.71 396.40,217.69 396.90,217.67 397.40,217.67 397.90,217.66 398.40,217.66 398.70,217.66 398.90,217.67 399.20,217.68 399.40,217.69 399.60,217.70 399.90,217.75 400.10,217.83 400.30,218.05 400.40,218.34 400.50,219.06 400.55,219.87 400.60,221.41 400.65,224.07 400.70,226.05 400.75,224.07 400.80,221.41 400.85,219.87 400.90,219.07 401.00,218.35 401.10,218.06 401.30,217.84 401.40,217.79 401.50,217.76 401.80,217.72 401.90,217.72 402.20,217.71 402.40,217.71 402.70,217.72 402.90,217.74 403.00,217.75 403.40,217.81 403.50,217.83 403.90,218.00 404.20,218.34 404.40,218.88 404.60,220.38 404.70,222.34 404.80,227.25 404.85,232.76 404.90,243.22 404.95,261.33 405.00,274.82 405.05,261.33 405.10,243.22 405.15,232.76 405.20,227.25 405.30,222.34 405.40,220.37 405.60,218.88 405.80,218.33 405.90,218.18 406.10,218.00 406.40,217.85 406.50,217.82 406.90,217.74 407.00,217.73 407.40,217.70 407.90,217.67 408.40,217.65 408.90,217.64 409.40,217.64 409.90,217.63 410.40,217.63 410.90,217.63 411.40,217.63 411.90,217.62 412.40,217.62 412.90,217.62 413.40,217.62 413.90,217.62 414.40,217.63 414.90,217.63 415.40,217.64 415.80,217.67 415.90,217.68 416.10,217.71 416.30,217.78 416.40,217.85 416.50,217.97 416.60,218.23 416.70,218.86 416.75,219.58 416.80,220.93 416.85,223.27 416.90,225.02 416.95,223.27 417.00,220.93 417.05,219.58 417.10,218.86 417.20,218.23 417.30,217.97 417.40,217.85 417.50,217.78 417.70,217.71 417.90,217.68 418.00,217.67 418.40,217.64 418.90,217.63 419.40,217.63 419.90,217.63 420.40,217.62 420.90,217.62 421.40,217.62 421.90,217.63 422.40,217.63 422.90,217.63 423.40,217.63 423.90,217.64 424.40,217.65 424.90,217.66 425.40,217.67 425.90,217.71 426.00,217.72 426.40,217.77 426.50,217.79 426.90,217.95 427.20,218.23 427.40,218.70 427.60,219.99 427.70,221.68 427.80,225.89 427.85,230.62 427.90,239.60 427.95,255.14 428.00,266.72 428.05,255.14 428.10,239.60 428.15,230.62 428.20,225.89 428.30,221.68 428.40,219.99 428.60,218.71 428.80,218.24 428.90,218.12 429.00,218.03 429.10,217.96 429.40,217.85 429.50,217.82 429.90,217.78 430.00,217.79 430.20,217.81 430.40,217.87 430.60,218.08 430.70,218.37 430.80,219.09 430.85,219.89 430.90,221.43 430.95,224.09 431.00,226.07 431.05,224.08 431.10,221.42 431.15,219.89 431.20,219.08 431.30,218.35 431.40,218.06 431.60,217.84 431.80,217.76 431.90,217.73 432.10,217.71 432.40,217.68 432.50,217.68 432.90,217.67 433.00,217.66 433.40,217.66 433.90,217.66 434.40,217.66 434.90,217.67 435.40,217.68 435.90,217.70 436.40,217.72 436.90,217.78 437.00,217.80 437.40,217.89 437.50,217.93 437.90,218.19 438.20,218.70 438.40,219.52 438.60,221.77 438.70,224.74 438.80,232.14 438.85,240.44 438.90,256.20 438.95,283.49 439.00,303.82 439.05,283.49 439.10,256.20 439.15,240.44 439.20,232.14 439.30,224.74 439.40,221.78 439.60,219.52 439.80,218.70 439.90,218.48 440.10,218.20 440.40,217.98 440.50,217.93 440.90,217.82 441.00,217.80 441.40,217.75 441.90,217.71 442.40,217.69 442.90,217.68 443.40,217.67 443.90,217.67 444.40,217.67 444.90,217.67 445.40,217.68 445.90,217.69 446.40,217.71 446.90,217.74 447.40,217.80 447.70,217.85 447.90,217.90 448.20,218.02 448.40,218.15 448.60,218.36 448.90,219.01 449.10,220.06 449.30,222.95 449.40,226.74 449.50,236.22 449.55,246.85 449.60,267.03 449.65,301.99 449.70,328.03 449.75,301.99 449.80,267.03 449.85,246.85 449.90,236.22 450.00,226.74 450.10,222.95 450.30,220.06 450.40,219.42 450.50,219.01 450.80,218.36 450.90,218.25 451.20,218.03 451.40,217.94 451.70,217.85 451.90,217.82 452.40,217.76 452.90,217.72 453.40,217.70 453.90,217.69 454.40,217.69 454.90,217.69 455.40,217.69 455.90,217.69 456.40,217.71 456.90,217.72 457.40,217.75 457.90,217.81 458.40,217.90 458.90,218.11 459.30,218.51 459.40,218.69 459.60,219.28 459.80,220.53 459.90,221.77 460.00,223.99 460.10,228.52 460.20,239.83 460.25,252.52 460.30,276.62 460.35,318.35 460.40,349.44 460.45,318.35 460.50,276.62 460.55,252.52 460.60,239.83 460.70,228.52 460.80,223.99 460.90,221.77 461.00,220.54 461.20,219.29 461.40,218.70 461.50,218.52 461.90,218.11 462.40,217.91 462.90,217.82 463.40,217.77 463.90,217.75 464.40,217.74 464.90,217.73 465.40,217.74 465.90,217.76 466.40,217.79 466.90,217.84 467.40,217.95 467.90,218.18 468.30,218.64 468.40,218.84 468.60,219.51 468.80,220.93 468.90,222.32 469.00,224.83 469.10,229.96 469.20,242.77 469.25,257.14 469.30,284.41 469.35,331.65 469.40,366.84 469.45,331.65 469.50,284.41 469.55,257.14 469.60,242.77 469.70,229.96 469.80,224.83 469.90,222.33 470.00,220.93 470.20,219.51 470.40,218.84 470.50,218.64 470.90,218.18 471.40,217.95 471.90,217.85 472.40,217.79 472.90,217.76 473.40,217.74 473.90,217.74 474.40,217.74 474.90,217.75 475.40,217.77 475.90,217.81 476.40,217.88 476.80,217.98 476.90,218.01 477.30,218.23 477.40,218.32 477.70,218.73 477.90,219.26 478.00,219.68 478.20,221.23 478.40,225.50 478.50,231.11 478.60,245.10 478.65,260.79 478.70,290.59 478.75,342.20 478.80,380.65 478.85,342.20 478.90,290.59 478.95,260.80 479.00,245.10 479.10,231.11 479.20,225.50 479.40,221.24 479.60,219.69 479.90,218.74 480.30,218.24 480.40,218.17 480.80,217.99 480.90,217.96 481.40,217.86 481.90,217.81 482.40,217.78 482.90,217.77 483.40,217.76 483.90,217.77 484.40,217.80 484.90,217.84 485.40,217.92 485.70,218.00 485.90,218.08 486.20,218.27 486.40,218.47 486.60,218.78 486.90,219.77 487.10,221.38 487.30,225.82 487.40,231.64 487.50,246.18 487.55,262.50 487.60,293.47 487.65,347.10 487.70,387.06 487.75,347.10 487.80,293.47 487.85,262.50 487.90,246.18 488.00,231.64 488.10,225.82 488.30,221.39 488.40,220.41 488.50,219.78 488.80,218.79 488.90,218.61 489.20,218.27 489.40,218.14 489.70,218.01 489.90,217.95 490.40,217.87 490.90,217.82 491.40,217.80 491.90,217.80 492.40,217.82 492.90,217.85 493.40,217.92 493.80,218.02 493.90,218.06 494.30,218.29 494.40,218.39 494.70,218.83 494.90,219.40 495.00,219.85 495.20,221.51 495.40,226.09 495.50,232.10 495.60,247.12 495.65,263.96 495.70,295.93 495.75,351.31 495.80,392.56 495.85,351.31 495.90,295.93 495.95,263.96 496.00,247.12 496.10,232.10 496.20,226.09 496.40,221.51 496.60,219.85 496.90,218.83 497.30,218.30 497.40,218.22 497.80,218.03 497.90,217.99 498.40,217.89 498.90,217.84 499.40,217.81 499.90,217.81 500.40,217.81 500.90,217.84 501.40,217.90 501.90,218.02 502.40,218.28 502.80,218.79 502.90,219.03 503.10,219.78 503.30,221.38 503.40,222.96 503.50,225.79 503.60,231.58 503.70,246.03 503.75,262.25 503.80,293.03 503.85,346.36 503.90,386.07 503.95,346.36 504.00,293.03 504.05,262.25 504.10,246.03 504.20,231.58 504.30,225.79 504.40,222.96 504.50,221.38 504.70,219.78 504.90,219.03 505.00,218.80 505.40,218.29 505.90,218.03 506.40,217.92 506.90,217.87 507.20,217.86 507.40,217.86 507.70,217.87 507.90,217.89 508.10,217.91 508.40,217.98 508.60,218.09 508.80,218.34 508.90,218.66 509.00,219.43 509.05,220.28 509.10,221.88 509.15,224.65 509.20,226.72 509.25,224.68 509.30,221.95 509.35,220.37 509.40,219.56 509.50,218.86 509.60,218.62 509.70,218.54 509.80,218.54 509.90,218.60 510.00,218.70 510.10,218.84 510.30,219.34 510.40,219.75 510.60,221.28 510.70,222.79 510.80,225.50 510.90,231.06 511.00,244.93 511.05,260.51 511.10,290.06 511.15,341.26 511.20,379.40 511.25,341.26 511.30,290.06 511.35,260.50 511.40,244.93 511.50,231.05 511.60,225.49 511.80,221.26 511.90,220.33 512.00,219.72 512.30,218.78 512.40,218.61 512.70,218.29 512.90,218.17 513.20,218.07 513.30,218.05 513.40,218.04 513.60,218.03 513.80,218.08 513.90,218.15 514.00,218.28 514.10,218.56 514.20,219.28 514.25,220.08 514.30,221.62 514.35,224.27 514.40,226.25 514.45,224.27 514.50,221.61 514.55,220.07 514.60,219.26 514.70,218.54 514.80,218.25 514.90,218.11 515.00,218.03 515.20,217.96 515.40,217.93 515.50,217.92 515.90,217.94 516.40,218.03 516.90,218.26 517.30,218.74 517.40,218.96 517.60,219.65 517.80,221.14 517.90,222.61 518.00,225.24 518.10,230.63 518.20,244.07 518.25,259.15 518.30,287.78 518.35,337.36 518.40,374.30 518.45,337.37 518.50,287.78 518.55,259.15 518.60,244.07 518.70,230.63 518.80,225.25 518.90,222.62 519.00,221.16 519.20,219.67 519.40,218.99 519.50,218.77 519.90,218.34 520.20,218.24 520.40,218.29 520.60,218.57 520.70,218.97 520.80,220.02 520.85,221.21 520.90,223.47 520.95,227.39 521.00,230.31 521.05,227.38 521.10,223.45 521.15,221.18 521.20,219.98 521.30,218.91 521.40,218.48 521.60,218.15 521.80,218.03 521.90,218.00 522.10,217.97 522.40,217.97 522.50,217.98 522.80,218.02 522.90,218.04 523.00,218.07 523.30,218.21 523.40,218.28 523.70,218.62 523.90,219.06 524.00,219.42 524.20,220.72 524.40,224.32 524.50,229.04 524.60,240.83 524.65,254.07 524.70,279.18 524.75,322.69 524.80,355.09 524.85,322.69 524.90,279.18 524.95,254.06 525.00,240.83 525.10,229.04 525.20,224.31 525.40,220.72 525.60,219.41 525.90,218.61 526.30,218.20 526.40,218.14 526.80,217.99 526.90,217.97 527.40,217.90 527.90,217.88 528.40,217.91 528.80,217.97 528.90,217.99 529.30,218.15 529.40,218.21 529.70,218.51 529.90,218.91 530.00,219.23 530.20,220.39 530.40,223.59 530.50,227.80 530.60,238.30 530.65,250.09 530.70,272.47 530.75,311.22 530.80,340.09 530.85,311.22 530.90,272.47 530.95,250.09 531.00,238.30 531.10,227.80 531.20,223.59 531.40,220.39 531.60,219.23 531.90,218.51 532.30,218.15 532.40,218.10 532.80,217.97 532.90,217.95 533.40,217.90 533.90,217.91 534.30,217.95 534.40,217.97 534.80,218.10 534.90,218.16 535.20,218.42 535.40,218.77 535.50,219.05 535.70,220.07 535.90,222.88 536.00,226.57 536.10,235.79 536.15,246.13 536.20,265.77 536.25,299.77 536.30,325.10 536.35,299.77 536.40,265.77 536.45,246.13 536.50,235.79 536.60,226.57 536.70,222.88 536.90,220.07 537.10,219.06 537.40,218.44 537.80,218.12 537.90,218.08 538.30,217.99 538.40,217.98 538.80,217.98 538.90,217.99 539.30,218.08 539.40,218.12 539.70,218.34 539.90,218.63 540.00,218.86 540.20,219.73 540.40,222.12 540.50,225.26 540.60,233.10 540.65,241.90 540.70,258.61 540.75,287.55 540.80,309.11 540.85,287.55 540.90,258.61 540.95,241.90 541.00,233.10 541.10,225.25 541.20,222.11 541.40,219.72 541.60,218.85 541.90,218.32 542.30,218.05 542.40,218.01 542.80,217.93 542.90,217.92 543.40,217.91 543.50,217.91 543.90,217.98 544.00,218.01 544.40,218.23 544.70,218.67 544.90,219.40 545.10,221.41 545.20,224.05 545.30,230.65 545.35,238.06 545.40,252.12 545.45,276.47 545.50,294.60 545.55,276.47 545.60,252.12 545.65,238.06 545.70,230.65 545.80,224.05 545.90,221.41 546.10,219.40 546.30,218.67 546.40,218.47 546.60,218.23 546.90,218.05 547.00,218.01 547.40,217.94 547.50,217.93 547.60,217.93 547.90,217.94 548.10,217.98 548.40,218.09 548.50,218.15 548.80,218.52 548.90,218.76 549.00,219.12 549.20,220.79 549.30,222.98 549.40,228.45 549.45,234.60 549.50,246.26 549.55,266.46 549.60,281.51 549.65,266.46 549.70,246.26 549.75,234.60 549.80,228.45 549.90,222.98 550.00,220.79 550.20,219.12 550.40,218.52 550.70,218.16 550.90,218.05 551.10,217.99 551.20,217.97 551.40,217.95 551.60,217.96 551.70,217.97 551.90,218.01 552.10,218.10 552.40,218.39 552.60,218.88 552.80,220.25 552.90,222.05 553.00,226.55 553.05,231.60 553.10,241.17 553.15,257.77 553.20,270.13 553.25,257.77 553.30,241.18 553.35,231.60 553.40,226.55 553.50,222.06 553.60,220.26 553.80,218.89 553.90,218.60 554.00,218.41 554.10,218.28 554.30,218.13 554.40,218.08 554.60,218.04 554.70,218.03 554.90,218.06 555.00,218.08 555.20,218.20 555.30,218.30 555.40,218.45 555.50,218.68 555.70,219.77 555.80,221.21 555.90,224.80 555.95,228.84 556.00,236.50 556.05,249.77 556.10,259.65 556.15,249.77 556.20,236.50 556.25,228.84 556.30,224.81 556.40,221.21 556.50,219.77 556.60,219.08 556.70,218.69 556.90,218.31 557.10,218.15 557.20,218.11 557.40,218.08 557.50,218.08 557.60,218.11 557.80,218.23 557.90,218.34 558.00,218.52 558.10,218.82 558.20,219.37 558.30,220.50 558.40,223.32 558.45,226.49 558.50,232.51 558.55,242.93 558.60,250.69 558.65,242.93 558.70,232.52 558.75,226.50 558.80,223.34 558.90,220.52 559.00,219.40 559.20,218.58 559.40,218.32 559.70,218.30 559.90,218.51 560.10,219.22 560.20,220.17 560.30,222.57 560.35,225.26 560.40,230.36 560.45,239.20 560.50,245.78 560.55,239.21 560.60,230.39 560.65,225.30 560.70,222.62 560.80,220.26 560.90,219.34 561.00,218.93 561.10,218.75 561.30,218.79 561.40,219.01 561.50,219.49 561.60,220.53 561.70,223.16 561.75,226.13 561.80,231.76 561.85,241.52 561.90,248.79 561.95,241.54 562.00,231.80 562.05,226.19 562.10,223.26 562.20,220.69 562.30,219.74 562.40,219.41 562.50,219.43 562.60,219.80 562.70,220.83 562.80,223.61 562.85,226.80 562.90,232.87 562.95,243.42 563.00,251.28 563.05,243.38 563.10,232.79 563.15,226.67 563.20,223.44 563.30,220.55 563.40,219.38 563.60,218.48 563.80,218.14 563.90,218.04 564.10,217.92 564.40,217.82 564.50,217.80 564.90,217.74 565.00,217.73 565.40,217.70 565.90,217.68 566.40,217.66 566.90,217.65 567.40,217.64 567.90,217.64 568.40,217.63 568.90,217.63 569.40,217.63 569.90,217.63 570.40,217.62 570.90,217.62 571.40,217.62 571.90,217.62 572.40,217.62 572.90,217.62 573.40,217.62 573.90,217.61 574.40,217.61 574.90,217.61 575.40,217.61 575.90,217.61 576.40,217.61 576.90,217.61 577.40,217.61 577.90,217.61 578.40,217.61 578.90,217.61 579.40,217.61 579.90,217.61 580.40,217.61 580.90,217.61 581.40,217.61 581.90,217.61 582.40,217.61 582.90,217.61 583.40,217.61 583.90,217.61 584.40,217.61 584.90,217.61 585.40,217.61 585.90,217.61 586.40,217.61 586.90,217.61 587.40,217.61 587.90,217.61 588.40,217.61 588.90,217.61 589.40,217.61 589.90,217.61 590.40,217.61 590.90,217.60 591.40,217.60 591.90,217.60 592.40,217.60 592.90,217.60 593.40,217.60 593.90,217.60 594.40,217.60 594.90,217.60 595.40,217.60 595.90,217.60 596.40,217.60 596.90,217.60"/>
</svg>
<path d="M35.29,1.65v4.1M35.29,416.75v4.6M49.62,1.65v4.1M49.62,416.75v4.6M63.95,1.65v8.2M63.95,416.75v8M78.28,1.65v4.1M78.28,416.75v4.6M92.61,1.65v4.1M92.61,416.75v4.6M106.93,1.65v4.1M106.93,416.75v4.6M121.26,1.65v4.1M121.26,416.75v4.6M135.59,1.65v8.2M135.59,416.75v8M149.92,1.65v4.1M149.92,416.75v4.6M164.25,1.65v4.1M164.25,416.75v4.6M178.57,1.65v4.1M178.57,416.75v4.6M192.90,1.65v4.1M192.90,416.75v4.6M207.23,1.65v8.2M207.23,416.75v8M221.56,1.65v4.1M221.56,416.75v4.6M235.89,1.65v4.1M235.89,416.75v4.6M250.21,1.65v4.1M250.21,416.75v4.6M264.54,1.65v4.1M264.54,416.75v4.6M278.87,1.65v8.2M278.87,416.75v8M293.20,1.65v4.1M293.20,416.75v4.6M307.53,1.65v4.1M307.53,416.75v4.6M321.85,1.65v4.1M321.85,416.75v4.6M336.18,1.65v4.1M336.18,416.75v4.6M350.51,1.65v8.2M350.51,416.75v8M364.84,1.65v4.1M364.84,416.75v4.6M379.17,1.65v4.1M379.17,416.75v4.6M393.49,1.65v4.1M393.49,416.75v4.6M407.82,1.65v4.1M407.82,416.75v4.6M422.15,1.65v8.2M422.15,416.75v8M436.48,1.65v4.1M436.48,416.75v4.6M450.81,1.65v4.1M450.81,416.75v4.6M465.13,1.65v4.1M465.13,416.75v4.6M479.46,1.65v4.1M479.46,416.75v4.6M493.79,1.65v8.2M493.79,416.75v8M508.12,1.65v4.1M508.12,416.75v4.6M522.45,1.65v4.1M522.45,416.75v4.6M536.77,1.65v4.1M536.77,416.75v4.6M551.10,1.65v4.1M551.10,416.75v4.6M565.43,1.65v8.2M565.43,416.75v8M579.76,1.65v4.1M579.76,416.75v4.6M594.09,1.65v4.1M594.09,416.75v4.6" stroke="#000" stroke-width="1.9" fill="none"/>
<text x="63.95" y="444.2" text-anchor="middle" font-family="Liberation Sans, sans-serif" font-size="18" fill="#000" stroke="#000" stroke-width="0.3">24950</text>
<text x="135.59" y="444.2" text-anchor="middle" font-family="Liberation Sans, sans-serif" font-size="18" fill="#000" stroke="#000" stroke-width="0.3">24970</text>
<text x="207.23" y="444.2" text-anchor="middle" font-family="Liberation Sans, sans-serif" font-size="18" fill="#000" stroke="#000" stroke-width="0.3">24990</text>
<text x="278.87" y="444.2" text-anchor="middle" font-family="Liberation Sans, sans-serif" font-size="18" fill="#000" stroke="#000" stroke-width="0.3">25010</text>
<text x="350.51" y="444.2" text-anchor="middle" font-family="Liberation Sans, sans-serif" font-size="18" fill="#000" stroke="#000" stroke-width="0.3">25030</text>
<text x="422.15" y="444.2" text-anchor="middle" font-family="Liberation Sans, sans-serif" font-size="18" fill="#000" stroke="#000" stroke-width="0.3">25050</text>
<text x="493.79" y="444.2" text-anchor="middle" font-family="Liberation Sans, sans-serif" font-size="18" fill="#000" stroke="#000" stroke-width="0.3">25070</text>
<text x="565.43" y="444.2" text-anchor="middle" font-family="Liberation Sans, sans-serif" font-size="18" fill="#000" stroke="#000" stroke-width="0.3">25090</text>
<text x="234.2" y="464.9" font-family="Liberation Sans, sans-serif" font-size="18.1" fill="#000" stroke="#000" stroke-width="0.3">Wavenumber (cm<tspan dx="0.4" dy="-9.8" font-size="9.8">-1</tspan><tspan dx="1.1" dy="9.8" font-size="18.1">)</tspan></text>
<text transform="translate(12.8,215.6) rotate(-90)" text-anchor="middle" font-family="Liberation Sans, sans-serif" font-size="17.9" fill="#000" stroke="#000" stroke-width="0.3">Relative Intensity</text>
<text x="80.7" y="57.6" font-family="Liberation Sans, sans-serif" font-size="18" fill="#000" stroke="#000" stroke-width="0.3">Observed</text>
<text x="75.4" y="361" font-family="Liberation Sans, sans-serif" font-size="18" fill="#0a0ac0" stroke="#0a0ac0" stroke-width="0.3">Calculated</text>
</svg></body></html>
